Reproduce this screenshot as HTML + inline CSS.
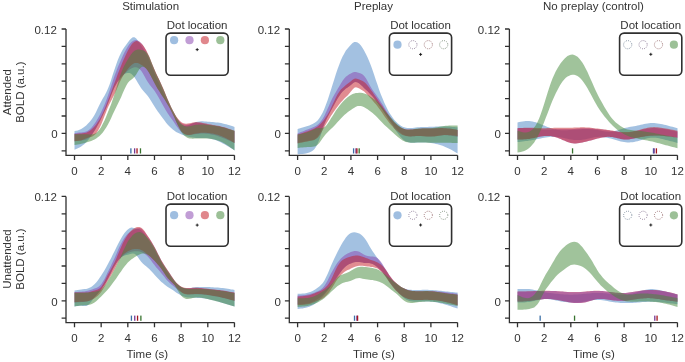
<!DOCTYPE html><html><head><meta charset="utf-8"><style>html,body{margin:0;padding:0;background:#fff;overflow:hidden}svg{display:block;will-change:transform}</style></head><body>
<svg xmlns="http://www.w3.org/2000/svg" width="685" height="362" viewBox="0 0 685 362" font-family="Liberation Sans, sans-serif" font-size="11.5" fill="#333333">
<rect width="685" height="362" fill="#fff"/>
<text x="150.6" y="10.2" text-anchor="middle">Stimulation</text>
<text x="373.5" y="10.2" text-anchor="middle">Preplay</text>
<text x="593.4" y="10.2" text-anchor="middle">No preplay (control)</text>
<text transform="translate(11.0,92.2) rotate(-90)" text-anchor="middle">Attended</text>
<text transform="translate(24.4,92.2) rotate(-90)" text-anchor="middle">BOLD (a.u.)</text>
<text transform="translate(11.0,259.0) rotate(-90)" text-anchor="middle">Unattended</text>
<text transform="translate(24.4,259.0) rotate(-90)" text-anchor="middle">BOLD (a.u.)</text>
<text x="147.3" y="358.4" text-anchor="middle">Time (s)</text>
<text x="373.9" y="358.4" text-anchor="middle">Time (s)</text>
<text x="593.9" y="358.4" text-anchor="middle">Time (s)</text>
<path d="M74.5,131.1 76.2,130.8 77.8,130.4 79.5,129.8 81.2,129.1 82.8,128.1 84.5,126.8 86.2,125.4 87.8,123.8 89.5,122.1 91.2,120.1 92.8,117.8 94.5,115.0 96.2,111.8 97.8,108.3 99.5,104.8 101.2,101.5 102.8,98.5 104.5,95.7 106.2,92.6 107.8,89.0 109.5,84.7 111.2,79.8 112.8,74.6 114.5,69.5 116.2,64.6 117.8,60.1 119.5,56.0 121.2,52.5 122.8,49.5 124.5,47.0 126.2,44.7 127.8,42.5 129.5,40.3 131.2,38.4 132.8,37.3 134.5,37.3 136.2,38.5 137.8,40.5 139.5,42.9 141.2,45.5 142.8,48.1 144.5,50.7 146.1,53.6 147.8,56.8 149.5,60.7 151.1,64.8 152.8,69.2 154.5,73.4 156.1,77.3 157.8,81.0 159.5,84.6 161.1,88.2 162.8,91.8 164.5,95.6 166.1,99.3 167.8,103.0 169.5,106.5 171.1,109.8 172.8,113.0 174.5,116.0 176.1,118.8 177.8,121.2 179.5,123.2 181.1,124.7 182.8,125.6 184.5,125.9 186.1,125.8 187.8,125.4 189.5,124.8 191.1,124.0 192.8,123.2 194.5,122.5 196.1,122.0 197.8,121.7 199.5,121.4 201.1,121.3 202.8,121.3 204.5,121.4 206.1,121.5 207.8,121.7 209.5,121.8 211.1,121.9 212.8,122.0 214.5,122.2 216.1,122.4 217.8,122.6 219.5,122.8 221.1,123.1 222.8,123.5 224.5,123.9 226.1,124.3 227.8,124.8 229.5,125.3 231.1,125.8 232.8,126.3 234.5,126.9 L234.5,150.4 232.8,149.3 231.1,148.3 229.5,147.2 227.8,146.2 226.1,145.2 224.5,144.3 222.8,143.4 221.1,142.5 219.5,141.7 217.8,141.0 216.1,140.3 214.5,139.7 212.8,139.2 211.1,138.8 209.5,138.4 207.8,138.2 206.1,138.0 204.5,137.9 202.8,137.9 201.1,137.9 199.5,137.9 197.8,137.9 196.1,137.9 194.5,137.8 192.8,137.6 191.1,137.3 189.5,137.0 187.8,136.5 186.1,136.1 184.5,135.5 182.8,134.9 181.1,134.3 179.5,133.6 177.8,132.8 176.1,131.9 174.5,130.8 172.8,129.6 171.1,128.1 169.5,126.5 167.8,124.7 166.1,122.7 164.5,120.5 162.8,118.3 161.1,116.0 159.5,113.7 157.8,111.4 156.1,109.0 154.5,106.4 152.8,103.7 151.1,101.0 149.5,98.4 147.8,96.0 146.1,94.0 144.5,92.2 142.8,90.3 141.2,88.2 139.5,85.6 137.8,82.7 136.2,79.9 134.5,77.3 132.8,75.2 131.2,73.8 129.5,73.1 127.8,72.9 126.2,73.2 124.5,73.8 122.8,74.9 121.2,76.4 119.5,78.4 117.8,80.9 116.2,83.9 114.5,87.3 112.8,91.2 111.2,95.3 109.5,99.6 107.8,103.8 106.2,107.8 104.5,111.6 102.8,115.2 101.2,118.6 99.5,121.9 97.8,125.0 96.2,128.0 94.5,130.8 92.8,133.5 91.2,136.0 89.5,138.3 87.8,140.4 86.2,142.2 84.5,143.9 82.8,145.3 81.2,146.5 79.5,147.4 77.8,148.3 76.2,149.0 74.5,149.7 Z" fill="rgb(71,131,195)" fill-opacity="0.50"/>
<path d="M74.5,133.1 76.2,132.9 77.8,132.7 79.5,132.5 81.2,132.4 82.8,132.2 84.5,132.0 86.2,131.5 87.8,130.8 89.5,129.6 91.2,128.0 92.8,126.1 94.5,123.8 96.2,121.3 97.8,118.5 99.5,115.4 101.2,112.1 102.8,108.5 104.5,104.7 106.2,100.5 107.8,96.0 109.5,91.1 111.2,86.0 112.8,80.9 114.5,76.0 116.2,71.4 117.8,67.2 119.5,63.2 121.2,59.5 122.8,55.8 124.5,52.3 126.2,49.2 127.8,46.4 129.5,44.1 131.2,42.3 132.8,41.1 134.5,40.3 136.2,40.1 137.8,40.5 139.5,41.4 141.2,42.9 142.8,45.0 144.5,47.7 146.1,50.7 147.8,54.2 149.5,58.0 151.1,62.0 152.8,66.0 154.5,69.9 156.1,73.6 157.8,77.1 159.5,80.6 161.1,84.2 162.8,88.1 164.5,92.0 166.1,96.0 167.8,99.9 169.5,103.7 171.1,107.3 172.8,110.7 174.5,113.8 176.1,116.7 177.8,119.2 179.5,121.4 181.1,123.0 182.8,124.0 184.5,124.5 186.1,124.7 187.8,124.5 189.5,124.2 191.1,123.7 192.8,123.3 194.5,123.0 196.1,122.8 197.8,122.8 199.5,123.0 201.1,123.2 202.8,123.6 204.5,124.0 206.1,124.3 207.8,124.7 209.5,125.0 211.1,125.3 212.8,125.5 214.5,125.8 216.1,126.0 217.8,126.2 219.5,126.5 221.1,126.9 222.8,127.3 224.5,127.7 226.1,128.2 227.8,128.8 229.5,129.4 231.1,130.0 232.8,130.6 234.5,131.2 L234.5,143.0 232.8,142.2 231.1,141.5 229.5,140.7 227.8,140.0 226.1,139.3 224.5,138.6 222.8,138.0 221.1,137.3 219.5,136.7 217.8,136.1 216.1,135.6 214.5,135.1 212.8,134.7 211.1,134.4 209.5,134.1 207.8,133.8 206.1,133.7 204.5,133.6 202.8,133.6 201.1,133.6 199.5,133.7 197.8,133.9 196.1,134.0 194.5,134.3 192.8,134.5 191.1,134.7 189.5,134.8 187.8,134.8 186.1,134.5 184.5,133.9 182.8,133.0 181.1,131.7 179.5,129.9 177.8,127.7 176.1,125.4 174.5,123.0 172.8,120.6 171.1,118.3 169.5,115.9 167.8,113.4 166.1,110.7 164.5,108.0 162.8,105.1 161.1,102.1 159.5,99.1 157.8,96.1 156.1,93.3 154.5,90.8 152.8,88.6 151.1,86.6 149.5,84.5 147.8,82.1 146.1,79.2 144.5,76.2 142.8,73.3 141.2,70.8 139.5,69.0 137.8,67.8 136.2,67.3 134.5,67.3 132.8,67.7 131.2,68.4 129.5,69.4 127.8,70.8 126.2,72.3 124.5,74.0 122.8,75.8 121.2,77.7 119.5,79.7 117.8,81.8 116.2,84.3 114.5,87.3 112.8,91.0 111.2,95.1 109.5,99.5 107.8,103.8 106.2,107.9 104.5,111.6 102.8,115.2 101.2,118.6 99.5,121.9 97.8,125.1 96.2,128.0 94.5,130.8 92.8,133.3 91.2,135.5 89.5,137.3 87.8,138.6 86.2,139.5 84.5,140.0 82.8,140.2 81.2,140.4 79.5,140.5 77.8,140.7 76.2,141.0 74.5,141.2 Z" fill="rgb(137,67,175)" fill-opacity="0.50"/>
<path d="M74.5,134.1 76.2,133.9 77.8,133.7 79.5,133.5 81.2,133.4 82.8,133.3 84.5,133.1 86.2,132.7 87.8,132.1 89.5,131.1 91.2,129.8 92.8,128.3 94.5,126.4 96.2,124.4 97.8,122.1 99.5,119.5 101.2,116.4 102.8,113.0 104.5,109.2 106.2,105.1 107.8,100.8 109.5,96.4 111.2,91.9 112.8,87.4 114.5,82.9 116.2,78.5 117.8,74.1 119.5,69.7 121.2,65.5 122.8,61.5 124.5,57.7 126.2,54.1 127.8,50.8 129.5,47.7 131.2,45.1 132.8,43.1 134.5,41.7 136.2,41.1 137.8,41.3 139.5,42.0 141.2,43.4 142.8,45.1 144.5,47.4 146.1,50.1 147.8,53.4 149.5,57.1 151.1,61.2 152.8,65.4 154.5,69.5 156.1,73.2 157.8,76.7 159.5,80.2 161.1,83.8 162.8,87.6 164.5,91.5 166.1,95.5 167.8,99.5 169.5,103.3 171.1,106.9 172.8,110.3 174.5,113.4 176.1,116.2 177.8,118.6 179.5,120.6 181.1,122.1 182.8,123.1 184.5,123.6 186.1,123.7 187.8,123.6 189.5,123.3 191.1,122.9 192.8,122.6 194.5,122.3 196.1,122.1 197.8,122.2 199.5,122.3 201.1,122.6 202.8,122.9 204.5,123.3 206.1,123.6 207.8,124.0 209.5,124.3 211.1,124.6 212.8,124.9 214.5,125.2 216.1,125.5 217.8,125.7 219.5,126.1 221.1,126.4 222.8,126.9 224.5,127.3 226.1,127.8 227.8,128.4 229.5,129.0 231.1,129.6 232.8,130.2 234.5,130.8 L234.5,143.0 232.8,142.0 231.1,141.0 229.5,140.1 227.8,139.2 226.1,138.3 224.5,137.5 222.8,136.7 221.1,136.0 219.5,135.4 217.8,134.8 216.1,134.4 214.5,134.0 212.8,133.6 211.1,133.4 209.5,133.1 207.8,133.0 206.1,132.8 204.5,132.8 202.8,132.8 201.1,132.8 199.5,133.0 197.8,133.2 196.1,133.5 194.5,133.8 192.8,134.3 191.1,134.7 189.5,135.0 187.8,135.0 186.1,134.8 184.5,134.0 182.8,132.7 181.1,130.8 179.5,128.1 177.8,124.9 176.1,121.4 174.5,117.7 172.8,114.2 171.1,110.8 169.5,107.7 167.8,104.7 166.1,101.9 164.5,99.3 162.8,96.8 161.1,94.2 159.5,91.6 157.8,88.9 156.1,86.0 154.5,82.9 152.8,79.7 151.1,76.5 149.5,73.4 147.8,70.8 146.1,68.6 144.5,67.0 142.8,65.7 141.2,64.7 139.5,63.8 137.8,63.1 136.2,62.9 134.5,63.1 132.8,63.9 131.2,65.3 129.5,67.0 127.8,69.0 126.2,71.2 124.5,73.5 122.8,76.2 121.2,79.3 119.5,82.8 117.8,86.7 116.2,90.6 114.5,94.2 112.8,97.6 111.2,100.8 109.5,104.1 107.8,107.6 106.2,111.7 104.5,116.0 102.8,120.4 101.2,124.4 99.5,128.0 97.8,131.0 96.2,133.4 94.5,135.1 92.8,136.2 91.2,136.9 89.5,137.3 87.8,137.8 86.2,138.3 84.5,139.0 82.8,139.8 81.2,140.4 79.5,140.8 77.8,141.0 76.2,141.1 74.5,141.2 Z" fill="rgb(195,25,35)" fill-opacity="0.50"/>
<path d="M74.5,134.2 76.2,134.2 77.8,134.3 79.5,134.3 81.2,134.3 82.8,134.2 84.5,134.2 86.2,134.2 87.8,134.3 89.5,134.4 91.2,134.5 92.8,134.3 94.5,133.8 96.2,132.9 97.8,131.4 99.5,129.4 101.2,126.9 102.8,123.8 104.5,120.4 106.2,116.5 107.8,112.5 109.5,108.3 111.2,104.0 112.8,99.3 114.5,94.2 116.2,88.8 117.8,83.2 119.5,77.8 121.2,72.9 122.8,68.8 124.5,65.3 126.2,62.2 127.8,59.5 129.5,56.8 131.2,54.3 132.8,52.3 134.5,50.8 136.2,49.9 137.8,49.6 139.5,49.6 141.2,49.9 142.8,50.2 144.5,50.9 146.1,52.1 147.8,54.2 149.5,57.4 151.1,61.4 152.8,65.7 154.5,69.9 156.1,73.7 157.8,77.3 159.5,80.7 161.1,84.2 162.8,88.0 164.5,92.0 166.1,96.0 167.8,99.9 169.5,103.7 171.1,107.2 172.8,110.6 174.5,113.8 176.1,116.8 177.8,119.6 179.5,122.0 181.1,123.8 182.8,125.1 184.5,126.0 186.1,126.4 187.8,126.4 189.5,126.2 191.1,125.9 192.8,125.5 194.5,125.1 196.1,124.8 197.8,124.7 199.5,124.5 201.1,124.5 202.8,124.5 204.5,124.6 206.1,124.7 207.8,124.9 209.5,125.0 211.1,125.2 212.8,125.4 214.5,125.6 216.1,125.9 217.8,126.2 219.5,126.5 221.1,126.9 222.8,127.3 224.5,127.7 226.1,128.2 227.8,128.7 229.5,129.2 231.1,129.7 232.8,130.2 234.5,130.8 L234.5,150.4 232.8,149.1 231.1,147.9 229.5,146.7 227.8,145.5 226.1,144.4 224.5,143.4 222.8,142.5 221.1,141.7 219.5,141.0 217.8,140.4 216.1,139.9 214.5,139.5 212.8,139.2 211.1,138.9 209.5,138.7 207.8,138.6 206.1,138.5 204.5,138.5 202.8,138.5 201.1,138.5 199.5,138.5 197.8,138.5 196.1,138.6 194.5,138.6 192.8,138.7 191.1,138.6 189.5,138.4 187.8,137.9 186.1,137.1 184.5,135.8 182.8,134.0 181.1,131.7 179.5,128.7 177.8,125.2 176.1,121.5 174.5,117.7 172.8,114.2 171.1,110.8 169.5,107.6 167.8,104.7 166.1,101.9 164.5,99.3 162.8,96.8 161.1,94.2 159.5,91.6 157.8,88.9 156.1,86.0 154.5,82.9 152.8,79.7 151.1,76.5 149.5,73.5 147.8,70.8 146.1,68.6 144.5,67.2 142.8,66.7 141.2,67.3 139.5,69.1 137.8,71.7 136.2,74.4 134.5,76.8 132.8,78.5 131.2,79.8 129.5,81.1 127.8,82.9 126.2,85.7 124.5,89.2 122.8,93.0 121.2,96.9 119.5,100.5 117.8,104.0 116.2,107.3 114.5,110.8 112.8,114.3 111.2,118.0 109.5,121.4 107.8,124.7 106.2,127.6 104.5,130.1 102.8,132.4 101.2,134.3 99.5,135.9 97.8,137.3 96.2,138.5 94.5,139.5 92.8,140.3 91.2,141.0 89.5,141.6 87.8,142.1 86.2,142.6 84.5,143.0 82.8,143.5 81.2,143.8 79.5,144.2 77.8,144.5 76.2,144.8 74.5,145.1 Z" fill="rgb(65,135,55)" fill-opacity="0.50"/>
<rect x="130.24" y="148.30" width="1.3" height="5.2" fill="rgb(60,111,165)"/>
<rect x="133.97" y="148.30" width="1.3" height="5.2" fill="rgb(116,56,148)"/>
<rect x="136.37" y="148.30" width="1.3" height="5.2" fill="rgb(165,21,29)"/>
<rect x="139.83" y="148.30" width="1.3" height="5.2" fill="rgb(55,114,46)"/>
<path d="M66.00,29.00 V155.30 H234.46" fill="none" stroke="#303030" stroke-width="1.3"/>
<path d="M61.60,29.00 H66.00 M61.60,46.40 H66.00 M61.60,63.80 H66.00 M61.60,81.20 H66.00 M61.60,98.60 H66.00 M61.60,116.00 H66.00 M61.60,133.40 H66.00 M61.60,150.80 H66.00 M74.50,155.30 V159.90 M101.16,155.30 V159.90 M127.82,155.30 V159.90 M154.48,155.30 V159.90 M181.14,155.30 V159.90 M207.80,155.30 V159.90 M234.46,155.30 V159.90 " fill="none" stroke="#303030" stroke-width="1.3"/>
<text x="56.80" y="33.50" text-anchor="end">0.12</text>
<text x="57.60" y="138.10" text-anchor="end">0</text>
<text x="74.50" y="175.00" text-anchor="middle">0</text>
<text x="101.16" y="175.00" text-anchor="middle">2</text>
<text x="127.82" y="175.00" text-anchor="middle">4</text>
<text x="154.48" y="175.00" text-anchor="middle">6</text>
<text x="181.14" y="175.00" text-anchor="middle">8</text>
<text x="207.80" y="175.00" text-anchor="middle">10</text>
<text x="234.46" y="175.00" text-anchor="middle">12</text>
<text x="197.10" y="29.00" text-anchor="middle">Dot location</text>
<rect x="166.00" y="33.10" width="62.20" height="42.20" rx="4.5" fill="none" stroke="#303030" stroke-width="1.6"/>
<circle cx="174.10" cy="40.20" r="4.1" fill="rgb(71,131,195)" fill-opacity="0.52"/>
<circle cx="189.50" cy="40.20" r="4.1" fill="rgb(137,67,175)" fill-opacity="0.52"/>
<circle cx="204.90" cy="40.20" r="4.1" fill="rgb(195,25,35)" fill-opacity="0.52"/>
<circle cx="220.30" cy="40.20" r="4.1" fill="rgb(65,135,55)" fill-opacity="0.52"/>
<path d="M195.70,49.60 h3 M197.20,48.10 v3" stroke="#111" stroke-width="0.9"/>
<path d="M297.6,129.1 299.3,128.6 300.9,128.1 302.6,127.6 304.3,127.1 305.9,126.5 307.6,126.0 309.3,125.4 310.9,124.7 312.6,124.0 314.3,123.1 315.9,121.9 317.6,120.4 319.3,118.3 320.9,115.8 322.6,112.7 324.3,109.0 325.9,104.8 327.6,100.2 329.3,95.1 330.9,89.9 332.6,84.5 334.3,79.2 335.9,74.0 337.6,69.0 339.3,64.4 340.9,60.3 342.6,56.6 344.3,53.4 345.9,50.6 347.6,48.4 349.3,46.4 350.9,44.7 352.6,43.1 354.3,42.1 355.9,41.9 357.6,42.5 359.3,43.8 360.9,45.6 362.6,48.0 364.2,50.8 365.9,53.9 367.6,57.4 369.2,61.3 370.9,65.5 372.6,70.2 374.2,75.1 375.9,80.2 377.6,85.1 379.2,89.9 380.9,94.4 382.6,98.6 384.2,102.5 385.9,106.1 387.6,109.4 389.2,112.4 390.9,115.1 392.6,117.6 394.2,119.7 395.9,121.6 397.6,123.2 399.2,124.6 400.9,125.8 402.6,126.7 404.2,127.3 405.9,127.7 407.6,128.0 409.2,128.1 410.9,128.0 412.6,127.9 414.2,127.7 415.9,127.5 417.6,127.3 419.2,127.2 420.9,127.0 422.6,127.0 424.2,126.9 425.9,126.9 427.6,126.9 429.2,126.8 430.9,126.8 432.6,126.7 434.2,126.7 435.9,126.6 437.6,126.5 439.2,126.5 440.9,126.5 442.6,126.4 444.2,126.4 445.9,126.5 447.6,126.5 449.2,126.6 450.9,126.7 452.6,126.9 454.2,127.0 455.9,127.2 457.6,127.3 L457.6,153.4 455.9,152.4 454.2,151.5 452.6,150.6 450.9,149.6 449.2,148.8 447.6,147.9 445.9,147.2 444.2,146.5 442.6,145.8 440.9,145.2 439.2,144.7 437.6,144.3 435.9,143.9 434.2,143.5 432.6,143.2 430.9,143.0 429.2,142.8 427.6,142.6 425.9,142.5 424.2,142.4 422.6,142.4 420.9,142.4 419.2,142.4 417.6,142.5 415.9,142.7 414.2,142.8 412.6,142.8 410.9,142.8 409.2,142.5 407.6,142.1 405.9,141.4 404.2,140.4 402.6,139.0 400.9,137.3 399.2,135.3 397.6,133.1 395.9,130.7 394.2,128.2 392.6,125.6 390.9,123.0 389.2,120.3 387.6,117.7 385.9,115.1 384.2,112.5 382.6,110.0 380.9,107.6 379.2,105.2 377.6,103.0 375.9,100.7 374.2,98.6 372.6,96.6 370.9,94.7 369.2,93.0 367.6,91.3 365.9,89.8 364.2,88.2 362.6,86.5 360.9,84.9 359.3,83.6 357.6,82.5 355.9,82.0 354.3,82.3 352.6,83.5 350.9,85.0 349.3,86.3 347.6,87.4 345.9,88.6 344.3,89.9 342.6,91.6 340.9,93.6 339.3,96.0 337.6,98.6 335.9,101.5 334.3,104.5 332.6,107.7 330.9,110.8 329.3,113.8 327.6,117.0 325.9,120.6 324.3,124.7 322.6,129.5 320.9,134.7 319.3,139.6 317.6,143.8 315.9,147.0 314.3,149.2 312.6,150.7 310.9,151.7 309.3,152.4 307.6,153.0 305.9,153.5 304.3,153.8 302.6,154.0 300.9,154.1 299.3,154.2 297.6,154.3 Z" fill="rgb(71,131,195)" fill-opacity="0.50"/>
<path d="M297.6,133.4 299.3,132.7 300.9,132.1 302.6,131.4 304.3,130.8 305.9,130.1 307.6,129.5 309.3,128.8 310.9,128.2 312.6,127.5 314.3,126.8 315.9,125.9 317.6,124.7 319.3,123.2 320.9,121.3 322.6,118.9 324.3,116.0 325.9,112.6 327.6,108.8 329.3,104.9 330.9,101.2 332.6,97.8 334.3,94.8 335.9,91.9 337.6,89.0 339.3,86.2 340.9,83.4 342.6,80.8 344.3,78.6 345.9,76.8 347.6,75.4 349.3,74.3 350.9,73.4 352.6,72.6 354.3,72.1 355.9,72.1 357.6,72.5 359.3,72.9 360.9,73.5 362.6,74.4 364.2,76.0 365.9,78.3 367.6,81.2 369.2,84.3 370.9,87.3 372.6,89.9 374.2,92.3 375.9,94.6 377.6,96.9 379.2,99.3 380.9,101.9 382.6,104.6 384.2,107.3 385.9,110.0 387.6,112.7 389.2,115.3 390.9,117.7 392.6,119.9 394.2,121.9 395.9,123.7 397.6,125.2 399.2,126.5 400.9,127.6 402.6,128.4 404.2,129.1 405.9,129.5 407.6,129.7 409.2,129.7 410.9,129.6 412.6,129.5 414.2,129.3 415.9,129.1 417.6,128.9 419.2,128.7 420.9,128.6 422.6,128.6 424.2,128.5 425.9,128.5 427.6,128.5 429.2,128.5 430.9,128.4 432.6,128.4 434.2,128.3 435.9,128.3 437.6,128.2 439.2,128.1 440.9,128.1 442.6,128.1 444.2,128.2 445.9,128.3 447.6,128.4 449.2,128.6 450.9,128.8 452.6,129.1 454.2,129.4 455.9,129.6 457.6,129.9 L457.6,136.9 455.9,136.5 454.2,136.2 452.6,135.9 450.9,135.6 449.2,135.4 447.6,135.3 445.9,135.2 444.2,135.1 442.6,135.2 440.9,135.4 439.2,135.5 437.6,135.8 435.9,136.0 434.2,136.2 432.6,136.3 430.9,136.4 429.2,136.5 427.6,136.4 425.9,136.3 424.2,136.2 422.6,136.1 420.9,136.0 419.2,136.0 417.6,136.0 415.9,136.1 414.2,136.2 412.6,136.3 410.9,136.4 409.2,136.3 407.6,136.1 405.9,135.8 404.2,135.1 402.6,134.3 400.9,133.1 399.2,131.7 397.6,130.1 395.9,128.3 394.2,126.4 392.6,124.3 390.9,122.1 389.2,119.8 387.6,117.4 385.9,115.0 384.2,112.5 382.6,110.1 380.9,107.7 379.2,105.3 377.6,103.0 375.9,100.7 374.2,98.6 372.6,96.6 370.9,94.7 369.2,93.0 367.6,91.3 365.9,89.8 364.2,88.2 362.6,86.5 360.9,84.9 359.3,83.5 357.6,82.5 355.9,82.0 354.3,82.3 352.6,83.5 350.9,85.0 349.3,86.3 347.6,87.4 345.9,88.6 344.3,89.9 342.6,91.6 340.9,93.6 339.3,96.0 337.6,98.6 335.9,101.5 334.3,104.5 332.6,107.6 330.9,110.8 329.3,113.9 327.6,117.1 325.9,120.4 324.3,123.8 322.6,127.5 320.9,131.1 319.3,134.3 317.6,136.9 315.9,138.6 314.3,139.6 312.6,140.1 310.9,140.4 309.3,140.6 307.6,140.9 305.9,141.2 304.3,141.6 302.6,141.9 300.9,142.3 299.3,142.6 297.6,143.0 Z" fill="rgb(137,67,175)" fill-opacity="0.50"/>
<path d="M297.6,134.4 299.3,133.9 300.9,133.4 302.6,132.9 304.3,132.3 305.9,131.8 307.6,131.2 309.3,130.6 310.9,129.9 312.6,129.2 314.3,128.5 315.9,127.6 317.6,126.4 319.3,125.1 320.9,123.5 322.6,121.6 324.3,119.5 325.9,117.1 327.6,114.4 329.3,111.5 330.9,108.2 332.6,104.6 334.3,100.9 335.9,97.4 337.6,94.2 339.3,91.7 340.9,89.6 342.6,87.9 344.3,86.4 345.9,85.1 347.6,83.8 349.3,82.5 350.9,81.2 352.6,79.8 354.3,78.8 355.9,78.6 357.6,79.0 359.3,79.6 360.9,80.2 362.6,80.9 364.2,82.1 365.9,83.6 367.6,85.5 369.2,87.6 370.9,89.9 372.6,92.3 374.2,94.7 375.9,97.1 377.6,99.5 379.2,101.9 380.9,104.2 382.6,106.6 384.2,109.0 385.9,111.5 387.6,114.0 389.2,116.4 390.9,118.6 392.6,120.7 394.2,122.5 395.9,124.1 397.6,125.5 399.2,126.7 400.9,127.7 402.6,128.5 404.2,129.1 405.9,129.4 407.6,129.6 409.2,129.6 410.9,129.6 412.6,129.4 414.2,129.2 415.9,129.1 417.6,128.9 419.2,128.7 420.9,128.7 422.6,128.6 424.2,128.6 425.9,128.6 427.6,128.6 429.2,128.6 430.9,128.5 432.6,128.5 434.2,128.4 435.9,128.3 437.6,128.2 439.2,128.2 440.9,128.1 442.6,128.1 444.2,128.2 445.9,128.3 447.6,128.4 449.2,128.6 450.9,128.8 452.6,129.1 454.2,129.3 455.9,129.6 457.6,129.9 L457.6,136.0 455.9,135.8 454.2,135.6 452.6,135.4 450.9,135.3 449.2,135.2 447.6,135.1 445.9,135.1 444.2,135.1 442.6,135.3 440.9,135.5 439.2,135.7 437.6,135.9 435.9,136.2 434.2,136.4 432.6,136.5 430.9,136.6 429.2,136.6 427.6,136.6 425.9,136.5 424.2,136.3 422.6,136.2 420.9,136.1 419.2,136.0 417.6,136.0 415.9,136.1 414.2,136.2 412.6,136.3 410.9,136.4 409.2,136.4 407.6,136.3 405.9,136.0 404.2,135.6 402.6,134.9 400.9,134.0 399.2,132.8 397.6,131.5 395.9,130.0 394.2,128.4 392.6,126.6 390.9,124.7 389.2,122.7 387.6,120.6 385.9,118.3 384.2,116.0 382.6,113.6 380.9,111.1 379.2,108.7 377.6,106.4 375.9,104.3 374.2,102.4 372.6,100.5 370.9,98.6 369.2,96.7 367.6,94.9 365.9,93.2 364.2,91.6 362.6,90.4 360.9,89.4 359.3,88.5 357.6,87.7 355.9,87.2 354.3,87.7 352.6,89.4 350.9,91.6 349.3,93.6 347.6,95.4 345.9,97.0 344.3,98.6 342.6,100.4 340.9,102.3 339.3,104.3 337.6,106.4 335.9,108.7 334.3,111.0 332.6,113.4 330.9,116.0 329.3,118.7 327.6,121.5 325.9,124.3 324.3,127.3 322.6,130.3 320.9,133.2 319.3,135.7 317.6,137.8 315.9,139.1 314.3,140.0 312.6,140.5 310.9,140.8 309.3,141.1 307.6,141.4 305.9,141.8 304.3,142.1 302.6,142.4 300.9,142.8 299.3,143.1 297.6,143.5 Z" fill="rgb(195,25,35)" fill-opacity="0.50"/>
<path d="M297.6,134.6 299.3,134.3 300.9,133.9 302.6,133.6 304.3,133.1 305.9,132.7 307.6,132.1 309.3,131.5 310.9,130.8 312.6,130.0 314.3,129.2 315.9,128.6 317.6,128.2 319.3,128.1 320.9,128.2 322.6,128.0 324.3,127.3 325.9,125.9 327.6,123.8 329.3,121.3 330.9,118.6 332.6,115.9 334.3,113.2 335.9,110.6 337.6,108.2 339.3,106.0 340.9,103.9 342.6,102.1 344.3,100.3 345.9,98.7 347.6,97.2 349.3,95.9 350.9,94.9 352.6,94.1 354.3,93.6 355.9,93.1 357.6,92.9 359.3,92.7 360.9,92.7 362.6,93.0 364.2,93.4 365.9,94.0 367.6,94.8 369.2,95.8 370.9,96.9 372.6,98.0 374.2,99.2 375.9,100.5 377.6,102.1 379.2,103.9 380.9,105.8 382.6,107.8 384.2,109.9 385.9,111.9 387.6,113.9 389.2,115.8 390.9,117.7 392.6,119.6 394.2,121.4 395.9,123.1 397.6,124.7 399.2,126.1 400.9,127.3 402.6,128.3 404.2,129.1 405.9,129.5 407.6,129.7 409.2,129.8 410.9,129.6 412.6,129.4 414.2,129.1 415.9,128.8 417.6,128.6 419.2,128.5 420.9,128.4 422.6,128.3 424.2,128.3 425.9,128.3 427.6,128.3 429.2,128.3 430.9,128.2 432.6,128.0 434.2,127.8 435.9,127.5 437.6,127.2 439.2,126.8 440.9,126.5 442.6,126.2 444.2,126.0 445.9,125.8 447.6,125.7 449.2,125.6 450.9,125.5 452.6,125.5 454.2,125.5 455.9,125.5 457.6,125.6 L457.6,143.0 455.9,142.9 454.2,142.9 452.6,142.9 450.9,142.8 449.2,142.8 447.6,142.8 445.9,142.8 444.2,142.8 442.6,142.8 440.9,142.8 439.2,142.8 437.6,142.8 435.9,142.8 434.2,142.8 432.6,142.8 430.9,142.8 429.2,142.8 427.6,142.7 425.9,142.6 424.2,142.6 422.6,142.5 420.9,142.5 419.2,142.5 417.6,142.5 415.9,142.6 414.2,142.7 412.6,142.7 410.9,142.7 409.2,142.5 407.6,142.3 405.9,141.9 404.2,141.2 402.6,140.4 400.9,139.3 399.2,138.1 397.6,136.8 395.9,135.3 394.2,133.8 392.6,132.3 390.9,130.8 389.2,129.3 387.6,127.8 385.9,126.3 384.2,124.7 382.6,123.0 380.9,121.2 379.2,119.5 377.6,117.7 375.9,116.1 374.2,114.5 372.6,113.0 370.9,111.7 369.2,110.4 367.6,109.2 365.9,108.2 364.2,107.3 362.6,106.6 360.9,106.0 359.3,105.9 357.6,106.1 355.9,106.8 354.3,107.7 352.6,108.8 350.9,109.9 349.3,111.1 347.6,112.3 345.9,113.7 344.3,115.1 342.6,116.7 340.9,118.5 339.3,120.3 337.6,122.1 335.9,123.9 334.3,125.7 332.6,127.4 330.9,129.1 329.3,130.6 327.6,132.3 325.9,134.0 324.3,136.0 322.6,138.3 320.9,140.7 319.3,142.9 317.6,144.7 315.9,145.9 314.3,146.5 312.6,146.8 310.9,146.9 309.3,147.0 307.6,147.1 305.9,147.2 304.3,147.3 302.6,147.5 300.9,147.6 299.3,147.8 297.6,147.9 Z" fill="rgb(65,135,55)" fill-opacity="0.50"/>
<rect x="352.94" y="148.30" width="1.3" height="5.2" fill="rgb(60,111,165)"/>
<rect x="355.34" y="148.30" width="1.3" height="5.2" fill="rgb(116,56,148)"/>
<rect x="356.27" y="148.30" width="1.3" height="5.2" fill="rgb(165,21,29)"/>
<rect x="358.53" y="148.30" width="1.3" height="5.2" fill="rgb(55,114,46)"/>
<path d="M289.30,29.00 V155.30 H457.56" fill="none" stroke="#303030" stroke-width="1.3"/>
<path d="M284.90,29.00 H289.30 M284.90,46.40 H289.30 M284.90,63.80 H289.30 M284.90,81.20 H289.30 M284.90,98.60 H289.30 M284.90,116.00 H289.30 M284.90,133.40 H289.30 M284.90,150.80 H289.30 M297.60,155.30 V159.90 M324.26,155.30 V159.90 M350.92,155.30 V159.90 M377.58,155.30 V159.90 M404.24,155.30 V159.90 M430.90,155.30 V159.90 M457.56,155.30 V159.90 " fill="none" stroke="#303030" stroke-width="1.3"/>
<text x="280.10" y="33.50" text-anchor="end">0.12</text>
<text x="280.90" y="138.10" text-anchor="end">0</text>
<text x="297.60" y="175.00" text-anchor="middle">0</text>
<text x="324.26" y="175.00" text-anchor="middle">2</text>
<text x="350.92" y="175.00" text-anchor="middle">4</text>
<text x="377.58" y="175.00" text-anchor="middle">6</text>
<text x="404.24" y="175.00" text-anchor="middle">8</text>
<text x="430.90" y="175.00" text-anchor="middle">10</text>
<text x="457.56" y="175.00" text-anchor="middle">12</text>
<text x="420.50" y="29.00" text-anchor="middle">Dot location</text>
<rect x="389.40" y="33.10" width="62.20" height="42.20" rx="4.5" fill="none" stroke="#303030" stroke-width="1.6"/>
<circle cx="397.50" cy="44.70" r="4.1" fill="rgb(71,131,195)" fill-opacity="0.52"/>
<circle cx="412.90" cy="44.70" r="4.1" fill="none" stroke="rgb(105,82,118)" stroke-width="0.85" stroke-dasharray="0.8,1.35"/>
<circle cx="428.30" cy="44.70" r="4.1" fill="none" stroke="rgb(125,68,71)" stroke-width="0.85" stroke-dasharray="0.8,1.35"/>
<circle cx="443.70" cy="44.70" r="4.1" fill="none" stroke="rgb(81,105,78)" stroke-width="0.85" stroke-dasharray="0.8,1.35"/>
<path d="M419.10,54.40 h3 M420.60,52.90 v3" stroke="#111" stroke-width="0.9"/>
<path d="M517.5,122.4 519.2,122.1 520.8,121.8 522.5,121.5 524.2,121.3 525.8,121.1 527.5,121.1 529.2,121.1 530.8,121.2 532.5,121.5 534.2,121.9 535.8,122.3 537.5,122.9 539.2,123.5 540.8,124.2 542.5,124.9 544.2,125.6 545.8,126.3 547.5,126.9 549.2,127.6 550.8,128.2 552.5,128.7 554.2,129.2 555.8,129.6 557.5,129.9 559.2,130.1 560.8,130.3 562.5,130.3 564.2,130.3 565.8,130.3 567.5,130.2 569.2,130.1 570.8,129.9 572.5,129.8 574.2,129.6 575.8,129.5 577.5,129.4 579.2,129.3 580.8,129.2 582.5,129.1 584.1,129.1 585.8,129.0 587.5,129.0 589.1,129.1 590.8,129.2 592.5,129.3 594.1,129.5 595.8,129.7 597.5,129.9 599.1,130.2 600.8,130.6 602.5,130.9 604.1,131.2 605.8,131.4 607.5,131.6 609.1,131.7 610.8,131.7 612.5,131.5 614.1,131.2 615.8,130.7 617.5,130.3 619.1,129.7 620.8,129.2 622.5,128.7 624.1,128.2 625.8,127.8 627.5,127.4 629.1,127.1 630.8,126.8 632.5,126.5 634.1,126.2 635.8,125.9 637.5,125.6 639.1,125.2 640.8,124.8 642.5,124.5 644.1,124.1 645.8,123.8 647.5,123.5 649.1,123.3 650.8,123.1 652.5,123.1 654.1,123.1 655.8,123.3 657.5,123.4 659.1,123.7 660.8,124.0 662.5,124.3 664.1,124.7 665.8,125.1 667.5,125.5 669.1,125.9 670.8,126.4 672.5,126.8 674.1,127.3 675.8,127.7 677.5,128.2 L677.5,143.0 675.8,142.5 674.1,142.1 672.5,141.6 670.8,141.2 669.1,140.8 667.5,140.3 665.8,139.9 664.1,139.5 662.5,139.1 660.8,138.7 659.1,138.3 657.5,138.0 655.8,137.8 654.1,137.7 652.5,137.7 650.8,137.8 649.1,138.0 647.5,138.3 645.8,138.7 644.1,139.2 642.5,139.7 640.8,140.3 639.1,140.8 637.5,141.2 635.8,141.6 634.1,141.9 632.5,142.2 630.8,142.3 629.1,142.4 627.5,142.4 625.8,142.3 624.1,142.1 622.5,141.8 620.8,141.5 619.1,141.0 617.5,140.6 615.8,140.1 614.1,139.6 612.5,139.1 610.8,138.6 609.1,138.2 607.5,137.8 605.8,137.4 604.1,137.2 602.5,137.0 600.8,136.8 599.1,136.8 597.5,136.9 595.8,137.1 594.1,137.3 592.5,137.7 590.8,138.0 589.1,138.4 587.5,138.8 585.8,139.2 584.1,139.5 582.5,139.7 580.8,139.9 579.2,140.0 577.5,140.0 575.8,140.0 574.2,139.9 572.5,139.7 570.8,139.5 569.2,139.2 567.5,138.8 565.8,138.5 564.2,138.1 562.5,137.7 560.8,137.4 559.2,137.1 557.5,136.9 555.8,136.8 554.2,136.7 552.5,136.7 550.8,136.8 549.2,137.0 547.5,137.2 545.8,137.5 544.2,137.8 542.5,138.1 540.8,138.4 539.2,138.7 537.5,139.1 535.8,139.4 534.2,139.7 532.5,140.1 530.8,140.4 529.2,140.6 527.5,140.9 525.8,141.1 524.2,141.3 522.5,141.5 520.8,141.7 519.2,141.9 517.5,142.1 Z" fill="rgb(71,131,195)" fill-opacity="0.50"/>
<path d="M517.5,128.2 519.2,128.1 520.8,128.1 522.5,128.0 524.2,128.0 525.8,128.0 527.5,128.0 529.2,128.1 530.8,128.2 532.5,128.3 534.2,128.5 535.8,128.7 537.5,128.9 539.2,129.1 540.8,129.3 542.5,129.4 544.2,129.5 545.8,129.5 547.5,129.5 549.2,129.4 550.8,129.4 552.5,129.3 554.2,129.2 555.8,129.1 557.5,129.1 559.2,129.0 560.8,129.0 562.5,129.0 564.2,129.1 565.8,129.1 567.5,129.1 569.2,129.1 570.8,129.1 572.5,129.0 574.2,128.9 575.8,128.7 577.5,128.6 579.2,128.4 580.8,128.3 582.5,128.2 584.1,128.2 585.8,128.2 587.5,128.2 589.1,128.3 590.8,128.4 592.5,128.5 594.1,128.7 595.8,128.9 597.5,129.1 599.1,129.2 600.8,129.4 602.5,129.6 604.1,129.8 605.8,130.0 607.5,130.3 609.1,130.5 610.8,130.8 612.5,131.1 614.1,131.4 615.8,131.6 617.5,131.9 619.1,132.1 620.8,132.3 622.5,132.5 624.1,132.5 625.8,132.5 627.5,132.4 629.1,132.3 630.8,132.1 632.5,131.8 634.1,131.5 635.8,131.2 637.5,130.8 639.1,130.4 640.8,130.0 642.5,129.6 644.1,129.2 645.8,128.9 647.5,128.6 649.1,128.4 650.8,128.2 652.5,128.1 654.1,128.1 655.8,128.1 657.5,128.2 659.1,128.4 660.8,128.6 662.5,128.8 664.1,129.1 665.8,129.3 667.5,129.6 669.1,129.9 670.8,130.3 672.5,130.6 674.1,131.0 675.8,131.3 677.5,131.7 L677.5,137.8 675.8,137.5 674.1,137.2 672.5,137.0 670.8,136.7 669.1,136.5 667.5,136.3 665.8,136.2 664.1,136.0 662.5,135.9 660.8,135.8 659.1,135.8 657.5,135.8 655.8,135.8 654.1,135.8 652.5,135.9 650.8,136.0 649.1,136.1 647.5,136.3 645.8,136.5 644.1,136.7 642.5,136.9 640.8,137.1 639.1,137.4 637.5,137.8 635.8,138.1 634.1,138.4 632.5,138.8 630.8,139.1 629.1,139.3 627.5,139.5 625.8,139.5 624.1,139.5 622.5,139.3 620.8,139.0 619.1,138.6 617.5,138.2 615.8,137.8 614.1,137.4 612.5,137.1 610.8,136.9 609.1,136.8 607.5,136.8 605.8,136.9 604.1,137.2 602.5,137.5 600.8,137.8 599.1,138.2 597.5,138.6 595.8,139.1 594.1,139.5 592.5,140.0 590.8,140.4 589.1,140.8 587.5,141.3 585.8,141.7 584.1,142.1 582.5,142.5 580.8,142.8 579.2,143.1 577.5,143.3 575.8,143.4 574.2,143.4 572.5,143.2 570.8,143.0 569.2,142.5 567.5,142.0 565.8,141.3 564.2,140.6 562.5,139.9 560.8,139.1 559.2,138.4 557.5,137.8 555.8,137.2 554.2,136.7 552.5,136.4 550.8,136.1 549.2,135.9 547.5,135.9 545.8,135.9 544.2,136.0 542.5,136.2 540.8,136.5 539.2,136.8 537.5,137.2 535.8,137.6 534.2,138.0 532.5,138.3 530.8,138.6 529.2,138.9 527.5,139.1 525.8,139.2 524.2,139.3 522.5,139.4 520.8,139.4 519.2,139.5 517.5,139.5 Z" fill="rgb(137,67,175)" fill-opacity="0.50"/>
<path d="M517.5,128.2 519.2,128.1 520.8,128.0 522.5,127.9 524.2,127.8 525.8,127.8 527.5,127.8 529.2,127.7 530.8,127.7 532.5,127.8 534.2,127.8 535.8,127.9 537.5,128.0 539.2,128.1 540.8,128.1 542.5,128.2 544.2,128.2 545.8,128.2 547.5,128.1 549.2,128.1 550.8,128.0 552.5,127.9 554.2,127.8 555.8,127.8 557.5,127.7 559.2,127.7 560.8,127.7 562.5,127.7 564.2,127.8 565.8,127.8 567.5,127.8 569.2,127.8 570.8,127.7 572.5,127.7 574.2,127.6 575.8,127.5 577.5,127.4 579.2,127.4 580.8,127.3 582.5,127.3 584.1,127.3 585.8,127.4 587.5,127.5 589.1,127.6 590.8,127.8 592.5,128.0 594.1,128.2 595.8,128.4 597.5,128.6 599.1,128.8 600.8,129.0 602.5,129.2 604.1,129.4 605.8,129.6 607.5,129.9 609.1,130.1 610.8,130.4 612.5,130.6 614.1,130.9 615.8,131.2 617.5,131.5 619.1,131.7 620.8,131.9 622.5,132.0 624.1,132.1 625.8,132.1 627.5,132.0 629.1,131.9 630.8,131.7 632.5,131.4 634.1,131.1 635.8,130.8 637.5,130.4 639.1,129.9 640.8,129.5 642.5,129.0 644.1,128.6 645.8,128.2 647.5,127.8 649.1,127.5 650.8,127.3 652.5,127.2 654.1,127.1 655.8,127.2 657.5,127.3 659.1,127.5 660.8,127.7 662.5,127.9 664.1,128.2 665.8,128.5 667.5,128.8 669.1,129.1 670.8,129.4 672.5,129.8 674.1,130.1 675.8,130.4 677.5,130.8 L677.5,137.8 675.8,137.5 674.1,137.3 672.5,137.0 670.8,136.8 669.1,136.6 667.5,136.4 665.8,136.2 664.1,136.0 662.5,135.8 660.8,135.7 659.1,135.6 657.5,135.5 655.8,135.5 654.1,135.5 652.5,135.5 650.8,135.6 649.1,135.7 647.5,135.9 645.8,136.1 644.1,136.4 642.5,136.7 640.8,137.0 639.1,137.4 637.5,137.8 635.8,138.1 634.1,138.5 632.5,138.8 630.8,139.1 629.1,139.4 627.5,139.5 625.8,139.6 624.1,139.5 622.5,139.3 620.8,139.0 619.1,138.6 617.5,138.2 615.8,137.8 614.1,137.4 612.5,137.1 610.8,136.9 609.1,136.8 607.5,136.8 605.8,136.9 604.1,137.2 602.5,137.5 600.8,137.8 599.1,138.2 597.5,138.6 595.8,139.1 594.1,139.5 592.5,140.0 590.8,140.4 589.1,140.8 587.5,141.3 585.8,141.7 584.1,142.1 582.5,142.5 580.8,142.8 579.2,143.1 577.5,143.3 575.8,143.4 574.2,143.4 572.5,143.2 570.8,143.0 569.2,142.5 567.5,142.0 565.8,141.3 564.2,140.6 562.5,139.9 560.8,139.1 559.2,138.4 557.5,137.8 555.8,137.2 554.2,136.7 552.5,136.4 550.8,136.1 549.2,135.9 547.5,135.9 545.8,135.9 544.2,136.0 542.5,136.2 540.8,136.5 539.2,136.8 537.5,137.2 535.8,137.6 534.2,138.0 532.5,138.3 530.8,138.6 529.2,138.9 527.5,139.1 525.8,139.2 524.2,139.3 522.5,139.4 520.8,139.4 519.2,139.5 517.5,139.5 Z" fill="rgb(195,25,35)" fill-opacity="0.50"/>
<path d="M517.5,130.8 519.2,131.3 520.8,131.8 522.5,132.2 524.2,132.5 525.8,132.5 527.5,132.3 529.2,131.7 530.8,130.8 532.5,129.4 534.2,127.6 535.8,125.2 537.5,122.1 539.2,118.3 540.8,113.9 542.5,109.0 544.2,103.8 545.8,98.4 547.5,93.0 549.2,87.8 550.8,82.9 552.5,78.6 554.2,74.7 555.8,71.2 557.5,68.2 559.2,65.4 560.8,63.0 562.5,60.9 564.2,59.0 565.8,57.4 567.5,56.1 569.2,55.2 570.8,54.7 572.5,54.6 574.2,54.9 575.8,55.7 577.5,56.8 579.2,58.4 580.8,60.4 582.5,62.8 584.1,65.5 585.8,68.7 587.5,72.1 589.1,75.7 590.8,79.5 592.5,83.3 594.1,87.1 595.8,90.7 597.5,94.2 599.1,97.5 600.8,100.6 602.5,103.6 604.1,106.4 605.8,109.2 607.5,112.0 609.1,114.5 610.8,116.9 612.5,118.9 614.1,120.8 615.8,122.4 617.5,123.8 619.1,125.1 620.8,126.3 622.5,127.3 624.1,128.2 625.8,128.9 627.5,129.4 629.1,129.8 630.8,130.1 632.5,130.3 634.1,130.5 635.8,130.7 637.5,130.8 639.1,130.9 640.8,131.1 642.5,131.3 644.1,131.5 645.8,131.7 647.5,132.0 649.1,132.3 650.8,132.5 652.5,132.8 654.1,133.1 655.8,133.5 657.5,133.8 659.1,134.1 660.8,134.5 662.5,134.8 664.1,135.1 665.8,135.5 667.5,135.8 669.1,136.1 670.8,136.5 672.5,136.8 674.1,137.1 675.8,137.4 677.5,137.8 L677.5,148.2 675.8,147.8 674.1,147.3 672.5,146.9 670.8,146.5 669.1,146.0 667.5,145.6 665.8,145.2 664.1,144.7 662.5,144.3 660.8,143.8 659.1,143.3 657.5,142.9 655.8,142.4 654.1,142.0 652.5,141.6 650.8,141.2 649.1,140.9 647.5,140.5 645.8,140.2 644.1,139.9 642.5,139.6 640.8,139.3 639.1,139.0 637.5,138.6 635.8,138.3 634.1,137.9 632.5,137.5 630.8,137.0 629.1,136.4 627.5,135.8 625.8,135.1 624.1,134.3 622.5,133.3 620.8,132.3 619.1,131.2 617.5,129.9 615.8,128.6 614.1,127.1 612.5,125.5 610.8,123.8 609.1,122.0 607.5,120.1 605.8,118.1 604.1,116.0 602.5,113.8 600.8,111.5 599.1,109.1 597.5,106.4 595.8,103.6 594.1,100.5 592.5,97.4 590.8,94.2 589.1,91.2 587.5,88.2 585.8,85.5 584.1,82.9 582.5,80.7 580.8,78.7 579.2,77.2 577.5,76.0 575.8,75.2 574.2,74.8 572.5,74.8 570.8,75.1 569.2,75.7 567.5,76.6 565.8,77.8 564.2,79.5 562.5,81.5 560.8,84.0 559.2,86.8 557.5,89.9 555.8,93.2 554.2,96.8 552.5,100.6 550.8,104.7 549.2,109.0 547.5,113.4 545.8,117.8 544.2,122.1 542.5,126.2 540.8,130.1 539.2,133.6 537.5,136.9 535.8,139.8 534.2,142.4 532.5,144.6 530.8,146.5 529.2,148.0 527.5,149.2 525.8,150.2 524.2,150.9 522.5,151.5 520.8,151.9 519.2,152.2 517.5,152.5 Z" fill="rgb(65,135,55)" fill-opacity="0.50"/>
<rect x="571.90" y="148.30" width="1.3" height="5.2" fill="rgb(55,114,46)"/>
<rect x="652.82" y="148.30" width="1.3" height="5.2" fill="rgb(60,111,165)"/>
<rect x="653.48" y="148.30" width="1.3" height="5.2" fill="rgb(116,56,148)"/>
<rect x="655.75" y="148.30" width="1.3" height="5.2" fill="rgb(165,21,29)"/>
<path d="M509.40,29.00 V155.30 H677.46" fill="none" stroke="#303030" stroke-width="1.3"/>
<path d="M505.00,29.00 H509.40 M505.00,46.40 H509.40 M505.00,63.80 H509.40 M505.00,81.20 H509.40 M505.00,98.60 H509.40 M505.00,116.00 H509.40 M505.00,133.40 H509.40 M505.00,150.80 H509.40 M517.50,155.30 V159.90 M544.16,155.30 V159.90 M570.82,155.30 V159.90 M597.48,155.30 V159.90 M624.14,155.30 V159.90 M650.80,155.30 V159.90 M677.46,155.30 V159.90 " fill="none" stroke="#303030" stroke-width="1.3"/>
<text x="500.20" y="33.50" text-anchor="end">0.12</text>
<text x="501.00" y="138.10" text-anchor="end">0</text>
<text x="517.50" y="175.00" text-anchor="middle">0</text>
<text x="544.16" y="175.00" text-anchor="middle">2</text>
<text x="570.82" y="175.00" text-anchor="middle">4</text>
<text x="597.48" y="175.00" text-anchor="middle">6</text>
<text x="624.14" y="175.00" text-anchor="middle">8</text>
<text x="650.80" y="175.00" text-anchor="middle">10</text>
<text x="677.46" y="175.00" text-anchor="middle">12</text>
<text x="650.70" y="29.00" text-anchor="middle">Dot location</text>
<rect x="619.60" y="33.10" width="62.20" height="42.20" rx="4.5" fill="none" stroke="#303030" stroke-width="1.6"/>
<circle cx="627.70" cy="44.70" r="4.1" fill="none" stroke="rgb(83,103,125)" stroke-width="0.85" stroke-dasharray="0.8,1.35"/>
<circle cx="643.10" cy="44.70" r="4.1" fill="none" stroke="rgb(105,82,118)" stroke-width="0.85" stroke-dasharray="0.8,1.35"/>
<circle cx="658.50" cy="44.70" r="4.1" fill="none" stroke="rgb(125,68,71)" stroke-width="0.85" stroke-dasharray="0.8,1.35"/>
<circle cx="673.90" cy="44.70" r="4.1" fill="rgb(65,135,55)" fill-opacity="0.52"/>
<path d="M649.30,54.30 h3 M650.80,52.80 v3" stroke="#111" stroke-width="0.9"/>
<path d="M74.5,290.6 76.2,290.3 77.8,290.0 79.5,289.7 81.2,289.5 82.8,289.3 84.5,289.1 86.2,288.9 87.8,288.4 89.5,287.8 91.2,286.9 92.8,285.7 94.5,284.3 96.2,282.5 97.8,280.4 99.5,278.1 101.2,275.6 102.8,272.9 104.5,270.2 106.2,267.3 107.8,264.3 109.5,261.1 111.2,257.9 112.8,254.6 114.5,251.2 116.2,247.8 117.8,244.4 119.5,241.2 121.2,238.2 122.8,235.5 124.5,233.1 126.2,231.1 127.8,229.5 129.5,228.2 131.2,227.6 132.8,227.7 134.5,228.2 136.2,228.5 137.8,228.8 139.5,229.3 141.2,230.3 142.8,232.0 144.5,234.1 146.1,236.5 147.8,239.0 149.5,241.5 151.1,244.1 152.8,246.7 154.5,249.5 156.1,252.5 157.8,255.7 159.5,258.9 161.1,262.1 162.8,265.1 164.5,267.8 166.1,270.5 167.8,273.0 169.5,275.3 171.1,277.6 172.8,279.7 174.5,281.7 176.1,283.4 177.8,285.0 179.5,286.3 181.1,287.3 182.8,288.0 184.5,288.3 186.1,288.5 187.8,288.4 189.5,288.2 191.1,287.9 192.8,287.6 194.5,287.3 196.1,287.1 197.8,287.0 199.5,286.9 201.1,286.9 202.8,286.9 204.5,286.9 206.1,287.0 207.8,287.1 209.5,287.1 211.1,287.2 212.8,287.3 214.5,287.4 216.1,287.5 217.8,287.6 219.5,287.8 221.1,287.9 222.8,288.1 224.5,288.3 226.1,288.6 227.8,288.8 229.5,289.1 231.1,289.4 232.8,289.6 234.5,289.9 L234.5,306.5 232.8,306.0 231.1,305.5 229.5,305.0 227.8,304.5 226.1,304.0 224.5,303.5 222.8,303.0 221.1,302.5 219.5,302.0 217.8,301.6 216.1,301.1 214.5,300.6 212.8,300.2 211.1,299.8 209.5,299.4 207.8,299.1 206.1,298.8 204.5,298.5 202.8,298.3 201.1,298.1 199.5,298.0 197.8,297.9 196.1,297.8 194.5,297.8 192.8,297.7 191.1,297.7 189.5,297.6 187.8,297.5 186.1,297.2 184.5,296.8 182.8,296.3 181.1,295.6 179.5,294.6 177.8,293.6 176.1,292.4 174.5,291.2 172.8,290.1 171.1,289.0 169.5,288.0 167.8,286.9 166.1,285.7 164.5,284.5 162.8,283.1 161.1,281.7 159.5,280.1 157.8,278.3 156.1,276.5 154.5,274.7 152.8,272.8 151.1,271.0 149.5,269.3 147.8,267.7 146.1,266.3 144.5,265.0 142.8,263.5 141.2,261.7 139.5,259.4 137.8,257.1 136.2,255.1 134.5,253.8 132.8,253.5 131.2,253.8 129.5,254.3 127.8,254.7 126.2,255.1 124.5,255.6 122.8,256.3 121.2,257.3 119.5,258.8 117.8,260.8 116.2,263.2 114.5,266.0 112.8,269.1 111.2,272.4 109.5,275.8 107.8,279.1 106.2,282.0 104.5,284.8 102.8,287.3 101.2,289.5 99.5,291.5 97.8,293.4 96.2,295.3 94.5,297.3 92.8,299.5 91.2,301.8 89.5,303.7 87.8,305.2 86.2,305.9 84.5,306.1 82.8,306.0 81.2,305.8 79.5,305.8 77.8,306.0 76.2,306.2 74.5,306.5 Z" fill="rgb(71,131,195)" fill-opacity="0.50"/>
<path d="M74.5,292.1 76.2,292.0 77.8,291.9 79.5,291.8 81.2,291.7 82.8,291.5 84.5,291.4 86.2,291.1 87.8,290.8 89.5,290.3 91.2,289.8 92.8,289.2 94.5,288.6 96.2,288.0 97.8,287.2 99.5,286.0 101.2,284.3 102.8,281.8 104.5,278.9 106.2,275.5 107.8,272.1 109.5,268.7 111.2,265.3 112.8,261.8 114.5,258.2 116.2,254.4 117.8,250.5 119.5,246.8 121.2,243.4 122.8,240.4 124.5,237.8 126.2,235.6 127.8,233.8 129.5,232.4 131.2,231.2 132.8,230.3 134.5,229.5 136.2,228.7 137.8,228.2 139.5,228.1 141.2,228.6 142.8,229.9 144.5,231.7 146.1,234.0 147.8,236.4 149.5,238.8 151.1,241.3 152.8,244.0 154.5,246.9 156.1,250.1 157.8,253.5 159.5,256.8 161.1,260.0 162.8,262.8 164.5,265.4 166.1,267.9 167.8,270.4 169.5,272.9 171.1,275.5 172.8,278.0 174.5,280.4 176.1,282.4 177.8,284.2 179.5,285.7 181.1,286.9 182.8,287.7 184.5,288.2 186.1,288.5 187.8,288.6 189.5,288.6 191.1,288.5 192.8,288.3 194.5,288.2 196.1,288.1 197.8,288.2 199.5,288.2 201.1,288.3 202.8,288.5 204.5,288.7 206.1,288.9 207.8,289.1 209.5,289.2 211.1,289.4 212.8,289.6 214.5,289.8 216.1,289.9 217.8,290.1 219.5,290.3 221.1,290.5 222.8,290.8 224.5,291.0 226.1,291.3 227.8,291.6 229.5,291.9 231.1,292.2 232.8,292.5 234.5,292.8 L234.5,301.0 232.8,300.5 231.1,300.1 229.5,299.6 227.8,299.1 226.1,298.7 224.5,298.3 222.8,297.9 221.1,297.5 219.5,297.1 217.8,296.8 216.1,296.5 214.5,296.2 212.8,295.9 211.1,295.6 209.5,295.4 207.8,295.1 206.1,294.9 204.5,294.8 202.8,294.6 201.1,294.5 199.5,294.4 197.8,294.3 196.1,294.3 194.5,294.3 192.8,294.3 191.1,294.3 189.5,294.3 187.8,294.2 186.1,293.9 184.5,293.5 182.8,292.9 181.1,292.1 179.5,291.0 177.8,289.7 176.1,288.3 174.5,286.9 172.8,285.5 171.1,284.2 169.5,282.7 167.8,281.1 166.1,279.2 164.5,277.1 162.8,275.0 161.1,273.0 159.5,271.0 157.8,269.1 156.1,267.2 154.5,265.1 152.8,262.9 151.1,260.6 149.5,258.4 147.8,256.4 146.1,254.9 144.5,253.7 142.8,252.7 141.2,252.1 139.5,251.6 137.8,251.3 136.2,251.2 134.5,251.2 132.8,251.4 131.2,251.8 129.5,252.3 127.8,253.0 126.2,253.8 124.5,254.7 122.8,255.9 121.2,257.3 119.5,259.0 117.8,261.0 116.2,263.3 114.5,266.0 112.8,269.1 111.2,272.4 109.5,275.8 107.8,279.1 106.2,282.0 104.5,284.7 102.8,287.2 101.2,289.5 99.5,291.7 97.8,293.8 96.2,295.7 94.5,297.3 92.8,298.7 91.2,299.8 89.5,300.6 87.8,301.2 86.2,301.6 84.5,301.9 82.8,302.0 81.2,302.1 79.5,302.2 77.8,302.3 76.2,302.4 74.5,302.5 Z" fill="rgb(137,67,175)" fill-opacity="0.50"/>
<path d="M74.5,292.5 76.2,292.5 77.8,292.5 79.5,292.5 81.2,292.5 82.8,292.6 84.5,292.6 86.2,292.6 87.8,292.4 89.5,292.0 91.2,291.4 92.8,290.9 94.5,290.4 96.2,289.9 97.8,289.4 99.5,288.5 101.2,286.9 102.8,284.4 104.5,281.4 106.2,278.0 107.8,274.7 109.5,271.7 111.2,268.8 112.8,265.8 114.5,262.5 116.2,258.8 117.8,254.8 119.5,250.8 121.2,246.9 122.8,243.3 124.5,240.0 126.2,237.2 127.8,234.7 129.5,232.5 131.2,230.8 132.8,229.3 134.5,228.2 136.2,227.3 137.8,226.9 139.5,227.0 141.2,227.7 142.8,229.1 144.5,231.1 146.1,233.5 147.8,236.0 149.5,238.5 151.1,241.1 152.8,243.9 154.5,246.9 156.1,250.1 157.8,253.5 159.5,256.8 161.1,260.0 162.8,262.8 164.5,265.4 166.1,267.9 167.8,270.4 169.5,272.9 171.1,275.5 172.8,278.0 174.5,280.4 176.1,282.4 177.8,284.0 179.5,285.4 181.1,286.4 182.8,287.2 184.5,287.7 186.1,287.9 187.8,288.0 189.5,288.0 191.1,287.9 192.8,287.8 194.5,287.8 196.1,287.7 197.8,287.8 199.5,287.9 201.1,288.0 202.8,288.2 204.5,288.4 206.1,288.6 207.8,288.8 209.5,289.0 211.1,289.2 212.8,289.4 214.5,289.6 216.1,289.7 217.8,289.9 219.5,290.1 221.1,290.4 222.8,290.6 224.5,290.8 226.1,291.1 227.8,291.4 229.5,291.7 231.1,291.9 232.8,292.2 234.5,292.5 L234.5,300.8 232.8,300.3 231.1,299.9 229.5,299.4 227.8,299.0 226.1,298.5 224.5,298.1 222.8,297.7 221.1,297.3 219.5,297.0 217.8,296.6 216.1,296.3 214.5,296.0 212.8,295.7 211.1,295.4 209.5,295.1 207.8,294.9 206.1,294.6 204.5,294.4 202.8,294.2 201.1,294.1 199.5,294.0 197.8,293.9 196.1,293.9 194.5,294.0 192.8,294.2 191.1,294.3 189.5,294.5 187.8,294.5 186.1,294.3 184.5,293.9 182.8,293.2 181.1,292.1 179.5,290.6 177.8,288.9 176.1,287.0 174.5,285.1 172.8,283.4 171.1,281.8 169.5,280.1 167.8,278.2 166.1,276.0 164.5,273.5 162.8,271.0 161.1,268.6 159.5,266.4 157.8,264.4 156.1,262.5 154.5,260.8 152.8,259.2 151.1,257.6 149.5,256.1 147.8,254.7 146.1,253.3 144.5,252.0 142.8,250.8 141.2,249.9 139.5,249.3 137.8,249.0 136.2,248.9 134.5,249.0 132.8,249.3 131.2,249.8 129.5,250.4 127.8,251.2 126.2,252.2 124.5,253.5 122.8,255.1 121.2,257.3 119.5,260.0 117.8,263.1 116.2,266.3 114.5,269.5 112.8,272.4 111.2,275.2 109.5,278.0 107.8,280.8 106.2,283.8 104.5,286.8 102.8,289.6 101.2,292.1 99.5,294.1 97.8,295.8 96.2,297.1 94.5,298.2 92.8,299.2 91.2,300.0 89.5,300.7 87.8,301.2 86.2,301.5 84.5,301.6 82.8,301.7 81.2,301.7 79.5,301.7 77.8,301.9 76.2,302.0 74.5,302.2 Z" fill="rgb(195,25,35)" fill-opacity="0.50"/>
<path d="M74.5,292.7 76.2,292.7 77.8,292.7 79.5,292.7 81.2,292.7 82.8,292.7 84.5,292.7 86.2,292.6 87.8,292.5 89.5,292.4 91.2,292.1 92.8,291.9 94.5,291.7 96.2,291.5 97.8,291.1 99.5,290.5 101.2,289.5 102.8,287.9 104.5,285.8 106.2,283.4 107.8,280.8 109.5,278.1 111.2,275.4 112.8,272.5 114.5,269.5 116.2,266.2 117.8,262.8 119.5,259.2 121.2,255.6 122.8,251.8 124.5,248.2 126.2,244.7 127.8,241.6 129.5,239.0 131.2,236.9 132.8,235.1 134.5,233.8 136.2,232.8 137.8,232.3 139.5,232.1 141.2,232.5 142.8,233.4 144.5,234.7 146.1,236.3 147.8,238.2 149.5,240.2 151.1,242.4 152.8,244.9 154.5,247.7 156.1,250.9 157.8,254.2 159.5,257.6 161.1,260.8 162.8,263.7 164.5,266.3 166.1,268.8 167.8,271.2 169.5,273.7 171.1,276.2 172.8,278.6 174.5,280.8 176.1,282.7 177.8,284.4 179.5,285.8 181.1,286.9 182.8,287.7 184.5,288.3 186.1,288.6 187.8,288.8 189.5,288.9 191.1,288.9 192.8,288.9 194.5,288.8 196.1,288.8 197.8,288.8 199.5,288.8 201.1,288.9 202.8,289.0 204.5,289.1 206.1,289.2 207.8,289.3 209.5,289.5 211.1,289.6 212.8,289.8 214.5,290.0 216.1,290.2 217.8,290.4 219.5,290.6 221.1,290.8 222.8,291.0 224.5,291.3 226.1,291.6 227.8,291.8 229.5,292.1 231.1,292.4 232.8,292.7 234.5,293.0 L234.5,306.5 232.8,306.0 231.1,305.5 229.5,305.0 227.8,304.5 226.1,304.0 224.5,303.5 222.8,303.0 221.1,302.5 219.5,302.1 217.8,301.6 216.1,301.2 214.5,300.7 212.8,300.3 211.1,299.9 209.5,299.5 207.8,299.1 206.1,298.7 204.5,298.3 202.8,298.0 201.1,297.7 199.5,297.6 197.8,297.5 196.1,297.5 194.5,297.8 192.8,298.1 191.1,298.5 189.5,298.8 187.8,299.0 186.1,298.9 184.5,298.3 182.8,297.3 181.1,295.6 179.5,293.2 177.8,290.5 176.1,287.7 174.5,285.1 172.8,283.1 171.1,281.5 169.5,279.9 167.8,278.2 166.1,276.0 164.5,273.6 162.8,271.0 161.1,268.6 159.5,266.4 157.8,264.4 156.1,262.6 154.5,260.8 152.8,259.0 151.1,257.3 149.5,255.9 147.8,254.7 146.1,253.9 144.5,253.5 142.8,253.5 141.2,253.8 139.5,254.4 137.8,255.3 136.2,256.2 134.5,257.3 132.8,258.4 131.2,259.6 129.5,260.9 127.8,262.5 126.2,264.4 124.5,266.5 122.8,268.8 121.2,271.2 119.5,273.6 117.8,276.0 116.2,278.4 114.5,280.8 112.8,283.1 111.2,285.3 109.5,287.5 107.8,289.5 106.2,291.3 104.5,293.1 102.8,294.8 101.2,296.4 99.5,298.1 97.8,299.8 96.2,301.3 94.5,302.5 92.8,303.5 91.2,304.2 89.5,304.7 87.8,305.0 86.2,305.2 84.5,305.3 82.8,305.5 81.2,305.6 79.5,305.7 77.8,305.9 76.2,306.1 74.5,306.4 Z" fill="rgb(65,135,55)" fill-opacity="0.50"/>
<rect x="130.77" y="315.60" width="1.3" height="5.2" fill="rgb(60,111,165)"/>
<rect x="134.10" y="315.60" width="1.3" height="5.2" fill="rgb(116,56,148)"/>
<rect x="136.90" y="315.60" width="1.3" height="5.2" fill="rgb(165,21,29)"/>
<rect x="140.23" y="315.60" width="1.3" height="5.2" fill="rgb(55,114,46)"/>
<path d="M66.00,196.40 V322.60 H234.46" fill="none" stroke="#303030" stroke-width="1.3"/>
<path d="M61.60,196.40 H66.00 M61.60,213.80 H66.00 M61.60,231.20 H66.00 M61.60,248.60 H66.00 M61.60,266.00 H66.00 M61.60,283.40 H66.00 M61.60,300.80 H66.00 M61.60,318.20 H66.00 M74.50,322.60 V327.20 M101.16,322.60 V327.20 M127.82,322.60 V327.20 M154.48,322.60 V327.20 M181.14,322.60 V327.20 M207.80,322.60 V327.20 M234.46,322.60 V327.20 " fill="none" stroke="#303030" stroke-width="1.3"/>
<text x="56.80" y="200.90" text-anchor="end">0.12</text>
<text x="57.60" y="305.50" text-anchor="end">0</text>
<text x="74.50" y="342.30" text-anchor="middle">0</text>
<text x="101.16" y="342.30" text-anchor="middle">2</text>
<text x="127.82" y="342.30" text-anchor="middle">4</text>
<text x="154.48" y="342.30" text-anchor="middle">6</text>
<text x="181.14" y="342.30" text-anchor="middle">8</text>
<text x="207.80" y="342.30" text-anchor="middle">10</text>
<text x="234.46" y="342.30" text-anchor="middle">12</text>
<text x="197.10" y="200.00" text-anchor="middle">Dot location</text>
<rect x="166.00" y="204.10" width="62.20" height="42.20" rx="4.5" fill="none" stroke="#303030" stroke-width="1.6"/>
<circle cx="174.10" cy="215.20" r="4.1" fill="rgb(71,131,195)" fill-opacity="0.52"/>
<circle cx="189.50" cy="215.20" r="4.1" fill="rgb(137,67,175)" fill-opacity="0.52"/>
<circle cx="204.90" cy="215.20" r="4.1" fill="rgb(195,25,35)" fill-opacity="0.52"/>
<circle cx="220.30" cy="215.20" r="4.1" fill="rgb(65,135,55)" fill-opacity="0.52"/>
<path d="M195.70,225.10 h3 M197.20,223.60 v3" stroke="#111" stroke-width="0.9"/>
<path d="M297.6,293.8 299.3,293.8 300.9,293.7 302.6,293.6 304.3,293.4 305.9,293.2 307.6,292.8 309.3,292.3 310.9,291.7 312.6,290.9 314.3,289.9 315.9,288.9 317.6,287.8 319.3,286.5 320.9,285.1 322.6,283.2 324.3,280.8 325.9,277.6 327.6,273.9 329.3,270.0 330.9,266.0 332.6,262.2 334.3,258.6 335.9,255.2 337.6,251.8 339.3,248.6 340.9,245.5 342.6,242.6 344.3,239.9 345.9,237.6 347.6,235.6 349.3,234.0 350.9,232.9 352.6,232.4 354.3,232.2 355.9,232.5 357.6,232.9 359.3,233.6 360.9,234.6 362.6,235.9 364.2,237.7 365.9,240.1 367.6,242.8 369.2,245.8 370.9,248.6 372.6,251.2 374.2,253.6 375.9,255.9 377.6,258.2 379.2,260.4 380.9,262.8 382.6,265.2 384.2,267.7 385.9,270.4 387.6,273.1 389.2,275.7 390.9,278.2 392.6,280.3 394.2,282.2 395.9,283.8 397.6,285.1 399.2,286.3 400.9,287.2 402.6,288.0 404.2,288.6 405.9,289.1 407.6,289.4 409.2,289.7 410.9,289.8 412.6,289.9 414.2,290.0 415.9,290.0 417.6,289.9 419.2,289.9 420.9,289.9 422.6,289.8 424.2,289.8 425.9,289.8 427.6,289.8 429.2,289.9 430.9,289.9 432.6,290.0 434.2,290.2 435.9,290.3 437.6,290.5 439.2,290.7 440.9,290.8 442.6,291.0 444.2,291.2 445.9,291.4 447.6,291.6 449.2,291.8 450.9,291.9 452.6,292.1 454.2,292.2 455.9,292.4 457.6,292.5 L457.6,308.6 455.9,308.1 454.2,307.5 452.6,306.9 450.9,306.3 449.2,305.8 447.6,305.3 445.9,304.8 444.2,304.3 442.6,303.8 440.9,303.4 439.2,303.0 437.6,302.6 435.9,302.3 434.2,302.1 432.6,301.8 430.9,301.7 429.2,301.6 427.6,301.5 425.9,301.5 424.2,301.5 422.6,301.5 420.9,301.6 419.2,301.6 417.6,301.7 415.9,301.7 414.2,301.7 412.6,301.6 410.9,301.3 409.2,300.9 407.6,300.3 405.9,299.4 404.2,298.2 402.6,296.7 400.9,295.0 399.2,293.1 397.6,291.2 395.9,289.4 394.2,287.5 392.6,285.5 390.9,283.4 389.2,281.1 387.6,278.6 385.9,276.1 384.2,273.8 382.6,271.7 380.9,269.9 379.2,268.3 377.6,266.9 375.9,265.7 374.2,264.7 372.6,263.9 370.9,263.4 369.2,263.1 367.6,263.0 365.9,263.0 364.2,262.9 362.6,262.6 360.9,262.3 359.3,262.0 357.6,261.9 355.9,262.0 354.3,262.3 352.6,262.8 350.9,263.4 349.3,264.1 347.6,265.1 345.9,266.2 344.3,267.7 342.6,269.6 340.9,271.7 339.3,274.0 337.6,276.4 335.9,278.9 334.3,281.3 332.6,283.7 330.9,286.0 329.3,288.3 327.6,290.5 325.9,292.7 324.3,294.7 322.6,296.7 320.9,298.5 319.3,300.2 317.6,301.7 315.9,303.0 314.3,304.2 312.6,305.2 310.9,306.0 309.3,306.7 307.6,307.3 305.9,307.7 304.3,308.1 302.6,308.4 300.9,308.6 299.3,308.8 297.6,309.0 Z" fill="rgb(71,131,195)" fill-opacity="0.50"/>
<path d="M297.6,295.6 299.3,295.5 300.9,295.4 302.6,295.3 304.3,295.1 305.9,294.9 307.6,294.6 309.3,294.3 310.9,293.8 312.6,293.3 314.3,292.7 315.9,292.0 317.6,291.2 319.3,290.4 320.9,289.4 322.6,287.9 324.3,286.0 325.9,283.5 327.6,280.4 329.3,277.1 330.9,273.8 332.6,270.7 334.3,267.7 335.9,265.0 337.6,262.5 339.3,260.4 340.9,258.5 342.6,256.9 344.3,255.6 345.9,254.4 347.6,253.5 349.3,252.7 350.9,252.1 352.6,251.5 354.3,251.1 355.9,251.0 357.6,251.2 359.3,251.8 360.9,252.7 362.6,253.8 364.2,254.7 365.9,255.4 367.6,255.9 369.2,256.2 370.9,256.4 372.6,256.5 374.2,256.7 375.9,257.2 377.6,258.2 379.2,259.7 380.9,261.8 382.6,264.2 384.2,266.9 385.9,269.6 387.6,272.3 389.2,274.9 390.9,277.3 392.6,279.4 394.2,281.2 395.9,282.8 397.6,284.3 399.2,285.6 400.9,286.7 402.6,287.8 404.2,288.6 405.9,289.3 407.6,289.9 409.2,290.3 410.9,290.7 412.6,290.9 414.2,291.1 415.9,291.2 417.6,291.2 419.2,291.3 420.9,291.3 422.6,291.3 424.2,291.2 425.9,291.2 427.6,291.2 429.2,291.2 430.9,291.2 432.6,291.3 434.2,291.3 435.9,291.4 437.6,291.5 439.2,291.6 440.9,291.8 442.6,291.9 444.2,292.1 445.9,292.3 447.6,292.5 449.2,292.7 450.9,292.9 452.6,293.1 454.2,293.4 455.9,293.6 457.6,293.8 L457.6,305.2 455.9,304.7 454.2,304.2 452.6,303.7 450.9,303.3 449.2,302.8 447.6,302.4 445.9,302.0 444.2,301.7 442.6,301.3 440.9,301.0 439.2,300.8 437.6,300.5 435.9,300.3 434.2,300.2 432.6,300.0 430.9,299.9 429.2,299.9 427.6,299.8 425.9,299.8 424.2,299.8 422.6,299.9 420.9,299.9 419.2,299.9 417.6,299.9 415.9,299.9 414.2,299.9 412.6,299.8 410.9,299.6 409.2,299.2 407.6,298.8 405.9,298.1 404.2,297.3 402.6,296.3 400.9,295.1 399.2,293.7 397.6,292.1 395.9,290.4 394.2,288.5 392.6,286.5 390.9,284.3 389.2,281.9 387.6,279.4 385.9,277.0 384.2,274.7 382.6,272.7 380.9,270.9 379.2,269.2 377.6,267.7 375.9,266.3 374.2,265.1 372.6,264.1 370.9,263.4 369.2,263.0 367.6,262.9 365.9,262.9 364.2,262.9 362.6,262.6 360.9,262.3 359.3,262.1 357.6,261.9 355.9,262.0 354.3,262.3 352.6,262.8 350.9,263.4 349.3,264.1 347.6,265.1 345.9,266.3 344.3,267.7 342.6,269.6 340.9,271.7 339.3,274.0 337.6,276.4 335.9,278.9 334.3,281.3 332.6,283.7 330.9,286.0 329.3,288.2 327.6,290.2 325.9,292.1 324.3,293.8 322.6,295.4 320.9,296.7 319.3,297.9 317.6,299.1 315.9,300.1 314.3,301.0 312.6,301.8 310.9,302.5 309.3,303.1 307.6,303.5 305.9,303.8 304.3,304.0 302.6,304.1 300.9,304.2 299.3,304.3 297.6,304.3 Z" fill="rgb(137,67,175)" fill-opacity="0.50"/>
<path d="M297.6,296.4 299.3,296.4 300.9,296.3 302.6,296.2 304.3,296.0 305.9,295.8 307.6,295.5 309.3,295.2 310.9,294.7 312.6,294.1 314.3,293.5 315.9,292.8 317.6,292.1 319.3,291.4 320.9,290.7 322.6,289.8 324.3,288.6 325.9,287.1 327.6,285.2 329.3,282.8 330.9,279.9 332.6,276.5 334.3,272.8 335.9,269.2 337.6,266.0 339.3,263.5 340.9,261.6 342.6,260.1 344.3,259.0 345.9,258.2 347.6,257.5 349.3,256.9 350.9,256.4 352.6,256.0 354.3,255.7 355.9,255.5 357.6,255.6 359.3,255.8 360.9,256.2 362.6,256.7 364.2,257.3 365.9,257.9 367.6,258.6 369.2,259.3 370.9,259.9 372.6,260.5 374.2,261.1 375.9,261.8 377.6,262.5 379.2,263.4 380.9,264.5 382.6,265.9 384.2,267.7 385.9,269.9 387.6,272.4 389.2,274.9 390.9,277.3 392.6,279.4 394.2,281.2 395.9,282.8 397.6,284.3 399.2,285.6 400.9,286.7 402.6,287.7 404.2,288.6 405.9,289.3 407.6,289.9 409.2,290.4 410.9,290.7 412.6,290.9 414.2,291.1 415.9,291.2 417.6,291.2 419.2,291.2 420.9,291.2 422.6,291.2 424.2,291.2 425.9,291.1 427.6,291.1 429.2,291.2 430.9,291.2 432.6,291.3 434.2,291.5 435.9,291.7 437.6,291.9 439.2,292.2 440.9,292.4 442.6,292.7 444.2,293.0 445.9,293.2 447.6,293.5 449.2,293.7 450.9,293.9 452.6,294.1 454.2,294.3 455.9,294.5 457.6,294.7 L457.6,305.2 455.9,304.7 454.2,304.2 452.6,303.7 450.9,303.3 449.2,302.8 447.6,302.4 445.9,302.0 444.2,301.7 442.6,301.3 440.9,301.0 439.2,300.8 437.6,300.5 435.9,300.3 434.2,300.2 432.6,300.0 430.9,299.9 429.2,299.9 427.6,299.8 425.9,299.8 424.2,299.8 422.6,299.9 420.9,299.9 419.2,299.9 417.6,299.9 415.9,299.9 414.2,299.9 412.6,299.8 410.9,299.6 409.2,299.2 407.6,298.8 405.9,298.1 404.2,297.3 402.6,296.3 400.9,295.1 399.2,293.7 397.6,292.1 395.9,290.4 394.2,288.5 392.6,286.5 390.9,284.3 389.2,281.9 387.6,279.4 385.9,277.0 384.2,274.7 382.6,272.7 380.9,271.0 379.2,269.7 377.6,268.6 375.9,267.9 374.2,267.4 372.6,267.1 370.9,266.9 369.2,266.6 367.6,266.4 365.9,266.2 364.2,266.0 362.6,265.8 360.9,265.7 359.3,265.8 357.6,266.0 355.9,266.5 354.3,267.1 352.6,267.8 350.9,268.6 349.3,269.4 347.6,270.1 345.9,271.0 344.3,272.1 342.6,273.4 340.9,275.0 339.3,276.9 337.6,279.1 335.9,281.5 334.3,284.2 332.6,286.9 330.9,289.5 329.3,291.9 327.6,294.0 325.9,295.8 324.3,297.3 322.6,298.5 320.9,299.4 319.3,300.1 317.6,300.8 315.9,301.5 314.3,302.2 312.6,302.8 310.9,303.4 309.3,303.9 307.6,304.2 305.9,304.5 304.3,304.7 302.6,304.9 300.9,305.0 299.3,305.1 297.6,305.2 Z" fill="rgb(195,25,35)" fill-opacity="0.50"/>
<path d="M297.6,298.2 299.3,298.2 300.9,298.3 302.6,298.2 304.3,298.2 305.9,298.1 307.6,297.9 309.3,297.7 310.9,297.3 312.6,296.9 314.3,296.3 315.9,295.6 317.6,294.7 319.3,293.7 320.9,292.6 322.6,291.5 324.3,290.4 325.9,289.3 327.6,288.1 329.3,286.8 330.9,285.1 332.6,283.2 334.3,281.1 335.9,279.1 337.6,277.3 339.3,276.0 340.9,275.1 342.6,274.4 344.3,273.8 345.9,273.2 347.6,272.5 349.3,271.7 350.9,270.8 352.6,269.8 354.3,268.8 355.9,268.0 357.6,267.3 359.3,266.9 360.9,266.7 362.6,266.8 364.2,266.9 365.9,267.0 367.6,267.2 369.2,267.5 370.9,267.7 372.6,268.0 374.2,268.4 375.9,268.8 377.6,269.5 379.2,270.3 380.9,271.4 382.6,272.6 384.2,273.8 385.9,275.1 387.6,276.4 389.2,277.7 390.9,279.1 392.6,280.4 394.2,281.7 395.9,283.0 397.6,284.3 399.2,285.5 400.9,286.7 402.6,287.7 404.2,288.6 405.9,289.4 407.6,290.0 409.2,290.4 410.9,290.7 412.6,291.0 414.2,291.1 415.9,291.2 417.6,291.2 419.2,291.2 420.9,291.2 422.6,291.2 424.2,291.1 425.9,291.1 427.6,291.1 429.2,291.2 430.9,291.2 432.6,291.4 434.2,291.5 435.9,291.7 437.6,291.9 439.2,292.2 440.9,292.5 442.6,292.7 444.2,293.0 445.9,293.2 447.6,293.5 449.2,293.7 450.9,293.9 452.6,294.1 454.2,294.3 455.9,294.5 457.6,294.7 L457.6,306.0 455.9,305.7 454.2,305.3 452.6,305.0 450.9,304.7 449.2,304.4 447.6,304.0 445.9,303.7 444.2,303.4 442.6,303.1 440.9,302.8 439.2,302.6 437.6,302.3 435.9,302.1 434.2,301.9 432.6,301.8 430.9,301.7 429.2,301.6 427.6,301.6 425.9,301.6 424.2,301.7 422.6,301.8 420.9,301.9 419.2,302.1 417.6,302.3 415.9,302.5 414.2,302.7 412.6,302.9 410.9,302.9 409.2,302.8 407.6,302.4 405.9,301.8 404.2,300.8 402.6,299.5 400.9,297.9 399.2,296.3 397.6,294.7 395.9,293.3 394.2,292.0 392.6,290.8 390.9,289.5 389.2,288.1 387.6,286.8 385.9,285.5 384.2,284.3 382.6,283.3 380.9,282.4 379.2,281.8 377.6,281.2 375.9,280.8 374.2,280.4 372.6,280.1 370.9,279.9 369.2,279.7 367.6,279.6 365.9,279.3 364.2,279.1 362.6,278.7 360.9,278.3 359.3,278.1 357.6,278.2 355.9,278.6 354.3,279.3 352.6,280.1 350.9,280.8 349.3,281.3 347.6,281.7 345.9,282.1 344.3,282.5 342.6,283.1 340.9,283.9 339.3,284.9 337.6,286.0 335.9,287.4 334.3,288.9 332.6,290.5 330.9,292.1 329.3,293.7 327.6,295.3 325.9,296.8 324.3,298.2 322.6,299.5 320.9,300.6 319.3,301.6 317.6,302.5 315.9,303.3 314.3,304.0 312.6,304.6 310.9,305.2 309.3,305.6 307.6,305.9 305.9,306.2 304.3,306.4 302.6,306.5 300.9,306.7 299.3,306.8 297.6,306.9 Z" fill="rgb(65,135,55)" fill-opacity="0.50"/>
<rect x="353.87" y="315.60" width="1.3" height="5.2" fill="rgb(60,111,165)"/>
<rect x="356.27" y="315.60" width="1.3" height="5.2" fill="rgb(116,56,148)"/>
<rect x="356.94" y="315.60" width="1.3" height="5.2" fill="rgb(165,21,29)"/>
<path d="M289.30,196.40 V322.60 H457.56" fill="none" stroke="#303030" stroke-width="1.3"/>
<path d="M284.90,196.40 H289.30 M284.90,213.80 H289.30 M284.90,231.20 H289.30 M284.90,248.60 H289.30 M284.90,266.00 H289.30 M284.90,283.40 H289.30 M284.90,300.80 H289.30 M284.90,318.20 H289.30 M297.60,322.60 V327.20 M324.26,322.60 V327.20 M350.92,322.60 V327.20 M377.58,322.60 V327.20 M404.24,322.60 V327.20 M430.90,322.60 V327.20 M457.56,322.60 V327.20 " fill="none" stroke="#303030" stroke-width="1.3"/>
<text x="280.10" y="200.90" text-anchor="end">0.12</text>
<text x="280.90" y="305.50" text-anchor="end">0</text>
<text x="297.60" y="342.30" text-anchor="middle">0</text>
<text x="324.26" y="342.30" text-anchor="middle">2</text>
<text x="350.92" y="342.30" text-anchor="middle">4</text>
<text x="377.58" y="342.30" text-anchor="middle">6</text>
<text x="404.24" y="342.30" text-anchor="middle">8</text>
<text x="430.90" y="342.30" text-anchor="middle">10</text>
<text x="457.56" y="342.30" text-anchor="middle">12</text>
<text x="420.50" y="200.00" text-anchor="middle">Dot location</text>
<rect x="389.40" y="204.10" width="62.20" height="42.20" rx="4.5" fill="none" stroke="#303030" stroke-width="1.6"/>
<circle cx="397.50" cy="215.30" r="4.1" fill="rgb(71,131,195)" fill-opacity="0.52"/>
<circle cx="412.90" cy="215.30" r="4.1" fill="none" stroke="rgb(105,82,118)" stroke-width="0.85" stroke-dasharray="0.8,1.35"/>
<circle cx="428.30" cy="215.30" r="4.1" fill="none" stroke="rgb(125,68,71)" stroke-width="0.85" stroke-dasharray="0.8,1.35"/>
<circle cx="443.70" cy="215.30" r="4.1" fill="none" stroke="rgb(81,105,78)" stroke-width="0.85" stroke-dasharray="0.8,1.35"/>
<path d="M419.10,225.00 h3 M420.60,223.50 v3" stroke="#111" stroke-width="0.9"/>
<path d="M517.5,289.1 519.2,289.1 520.8,289.0 522.5,289.0 524.2,288.9 525.8,289.0 527.5,289.0 529.2,289.1 530.8,289.3 532.5,289.6 534.2,289.9 535.8,290.2 537.5,290.6 539.2,291.0 540.8,291.4 542.5,291.8 544.2,292.1 545.8,292.4 547.5,292.7 549.2,292.9 550.8,293.1 552.5,293.3 554.2,293.5 555.8,293.7 557.5,293.8 559.2,294.0 560.8,294.2 562.5,294.3 564.2,294.4 565.8,294.5 567.5,294.6 569.2,294.7 570.8,294.7 572.5,294.7 574.2,294.6 575.8,294.5 577.5,294.4 579.2,294.3 580.8,294.2 582.5,294.0 584.1,293.8 585.8,293.7 587.5,293.5 589.1,293.4 590.8,293.2 592.5,293.1 594.1,293.1 595.8,293.0 597.5,293.0 599.1,293.0 600.8,293.0 602.5,293.1 604.1,293.2 605.8,293.3 607.5,293.5 609.1,293.7 610.8,293.8 612.5,294.0 614.1,294.2 615.8,294.4 617.5,294.6 619.1,294.7 620.8,294.7 622.5,294.8 624.1,294.7 625.8,294.6 627.5,294.4 629.1,294.1 630.8,293.8 632.5,293.4 634.1,293.0 635.8,292.6 637.5,292.1 639.1,291.6 640.8,291.1 642.5,290.6 644.1,290.2 645.8,289.8 647.5,289.5 649.1,289.3 650.8,289.1 652.5,289.1 654.1,289.2 655.8,289.4 657.5,289.7 659.1,290.0 660.8,290.4 662.5,290.8 664.1,291.2 665.8,291.7 667.5,292.1 669.1,292.5 670.8,293.0 672.5,293.4 674.1,293.8 675.8,294.3 677.5,294.7 L677.5,304.3 675.8,304.0 674.1,303.8 672.5,303.6 670.8,303.4 669.1,303.2 667.5,302.9 665.8,302.7 664.1,302.5 662.5,302.4 660.8,302.2 659.1,302.0 657.5,301.9 655.8,301.8 654.1,301.7 652.5,301.7 650.8,301.7 649.1,301.7 647.5,301.8 645.8,301.9 644.1,302.0 642.5,302.1 640.8,302.3 639.1,302.4 637.5,302.5 635.8,302.7 634.1,302.8 632.5,302.9 630.8,303.0 629.1,303.0 627.5,303.1 625.8,303.1 624.1,303.1 622.5,303.0 620.8,302.9 619.1,302.8 617.5,302.6 615.8,302.4 614.1,302.2 612.5,301.9 610.8,301.7 609.1,301.4 607.5,301.1 605.8,300.8 604.1,300.5 602.5,300.3 600.8,300.1 599.1,300.0 597.5,299.9 595.8,300.0 594.1,300.1 592.5,300.3 590.8,300.5 589.1,300.8 587.5,301.1 585.8,301.4 584.1,301.7 582.5,301.9 580.8,302.1 579.2,302.3 577.5,302.4 575.8,302.5 574.2,302.6 572.5,302.6 570.8,302.5 569.2,302.5 567.5,302.3 565.8,302.1 564.2,301.9 562.5,301.7 560.8,301.4 559.2,301.1 557.5,300.8 555.8,300.5 554.2,300.1 552.5,299.8 550.8,299.5 549.2,299.3 547.5,299.1 545.8,299.0 544.2,299.1 542.5,299.2 540.8,299.5 539.2,299.8 537.5,300.2 535.8,300.6 534.2,301.0 532.5,301.3 530.8,301.7 529.2,301.9 527.5,302.1 525.8,302.3 524.2,302.4 522.5,302.5 520.8,302.5 519.2,302.5 517.5,302.5 Z" fill="rgb(71,131,195)" fill-opacity="0.50"/>
<path d="M517.5,291.5 519.2,291.5 520.8,291.4 522.5,291.4 524.2,291.4 525.8,291.4 527.5,291.3 529.2,291.3 530.8,291.2 532.5,291.2 534.2,291.1 535.8,291.0 537.5,291.0 539.2,290.9 540.8,290.9 542.5,290.8 544.2,290.8 545.8,290.8 547.5,290.8 549.2,290.8 550.8,290.9 552.5,290.9 554.2,291.0 555.8,291.1 557.5,291.2 559.2,291.3 560.8,291.5 562.5,291.6 564.2,291.7 565.8,291.8 567.5,292.0 569.2,292.0 570.8,292.1 572.5,292.1 574.2,292.1 575.8,292.1 577.5,292.1 579.2,292.0 580.8,291.9 582.5,291.8 584.1,291.7 585.8,291.5 587.5,291.3 589.1,291.2 590.8,291.0 592.5,290.9 594.1,290.8 595.8,290.7 597.5,290.7 599.1,290.8 600.8,290.9 602.5,291.0 604.1,291.2 605.8,291.4 607.5,291.6 609.1,291.9 610.8,292.1 612.5,292.3 614.1,292.5 615.8,292.7 617.5,292.8 619.1,292.9 620.8,293.0 622.5,293.0 624.1,293.0 625.8,292.9 627.5,292.7 629.1,292.5 630.8,292.3 632.5,292.0 634.1,291.8 635.8,291.5 637.5,291.2 639.1,291.0 640.8,290.7 642.5,290.5 644.1,290.3 645.8,290.2 647.5,290.0 649.1,290.0 650.8,289.9 652.5,289.9 654.1,290.0 655.8,290.1 657.5,290.3 659.1,290.5 660.8,290.7 662.5,290.9 664.1,291.2 665.8,291.5 667.5,291.9 669.1,292.3 670.8,292.6 672.5,293.0 674.1,293.4 675.8,293.9 677.5,294.3 L677.5,301.7 675.8,301.5 674.1,301.3 672.5,301.1 670.8,300.9 669.1,300.6 667.5,300.4 665.8,300.2 664.1,299.9 662.5,299.7 660.8,299.4 659.1,299.1 657.5,298.9 655.8,298.7 654.1,298.5 652.5,298.3 650.8,298.2 649.1,298.1 647.5,298.1 645.8,298.2 644.1,298.3 642.5,298.4 640.8,298.6 639.1,298.8 637.5,299.1 635.8,299.3 634.1,299.6 632.5,299.8 630.8,300.1 629.1,300.3 627.5,300.5 625.8,300.7 624.1,300.8 622.5,300.8 620.8,300.8 619.1,300.8 617.5,300.7 615.8,300.5 614.1,300.4 612.5,300.2 610.8,299.9 609.1,299.7 607.5,299.4 605.8,299.2 604.1,299.0 602.5,298.9 600.8,298.9 599.1,298.9 597.5,299.1 595.8,299.3 594.1,299.7 592.5,300.2 590.8,300.7 589.1,301.2 587.5,301.7 585.8,302.2 584.1,302.5 582.5,302.8 580.8,303.0 579.2,303.1 577.5,303.1 575.8,303.1 574.2,303.0 572.5,302.8 570.8,302.5 569.2,302.3 567.5,302.0 565.8,301.6 564.2,301.3 562.5,300.9 560.8,300.6 559.2,300.2 557.5,299.9 555.8,299.7 554.2,299.4 552.5,299.2 550.8,299.1 549.2,299.0 547.5,299.0 545.8,299.0 544.2,299.1 542.5,299.2 540.8,299.4 539.2,299.6 537.5,299.8 535.8,300.1 534.2,300.3 532.5,300.6 530.8,300.8 529.2,301.0 527.5,301.1 525.8,301.2 524.2,301.3 522.5,301.4 520.8,301.4 519.2,301.5 517.5,301.5 Z" fill="rgb(195,25,35)" fill-opacity="0.50"/>
<path d="M517.5,291.7 519.2,291.6 520.8,291.6 522.5,291.6 524.2,291.6 525.8,291.5 527.5,291.5 529.2,291.5 530.8,291.4 532.5,291.3 534.2,291.3 535.8,291.2 537.5,291.2 539.2,291.1 540.8,291.1 542.5,291.0 544.2,291.0 545.8,290.9 547.5,290.9 549.2,290.9 550.8,291.0 552.5,291.0 554.2,291.0 555.8,291.1 557.5,291.2 559.2,291.4 560.8,291.5 562.5,291.6 564.2,291.8 565.8,291.9 567.5,292.1 569.2,292.2 570.8,292.3 572.5,292.3 574.2,292.3 575.8,292.3 577.5,292.3 579.2,292.2 580.8,292.1 582.5,292.0 584.1,291.8 585.8,291.7 587.5,291.5 589.1,291.4 590.8,291.2 592.5,291.1 594.1,291.0 595.8,290.9 597.5,290.9 599.1,290.9 600.8,291.0 602.5,291.1 604.1,291.3 605.8,291.5 607.5,291.7 609.1,291.9 610.8,292.1 612.5,292.3 614.1,292.5 615.8,292.7 617.5,292.8 619.1,292.9 620.8,293.0 622.5,293.0 624.1,293.0 625.8,292.9 627.5,292.7 629.1,292.5 630.8,292.3 632.5,292.0 634.1,291.8 635.8,291.5 637.5,291.2 639.1,291.0 640.8,290.8 642.5,290.6 644.1,290.4 645.8,290.3 647.5,290.2 649.1,290.1 650.8,290.1 652.5,290.1 654.1,290.2 655.8,290.2 657.5,290.4 659.1,290.5 660.8,290.7 662.5,291.0 664.1,291.2 665.8,291.5 667.5,291.9 669.1,292.3 670.8,292.7 672.5,293.1 674.1,293.5 675.8,294.0 677.5,294.4 L677.5,301.7 675.8,301.5 674.1,301.3 672.5,301.1 670.8,300.9 669.1,300.6 667.5,300.4 665.8,300.2 664.1,299.9 662.5,299.7 660.8,299.4 659.1,299.1 657.5,298.9 655.8,298.7 654.1,298.5 652.5,298.3 650.8,298.2 649.1,298.1 647.5,298.1 645.8,298.2 644.1,298.3 642.5,298.4 640.8,298.6 639.1,298.8 637.5,299.1 635.8,299.3 634.1,299.6 632.5,299.8 630.8,300.1 629.1,300.3 627.5,300.5 625.8,300.7 624.1,300.8 622.5,300.8 620.8,300.8 619.1,300.8 617.5,300.7 615.8,300.5 614.1,300.4 612.5,300.2 610.8,299.9 609.1,299.7 607.5,299.4 605.8,299.2 604.1,299.0 602.5,298.9 600.8,298.9 599.1,298.9 597.5,299.1 595.8,299.3 594.1,299.7 592.5,300.2 590.8,300.7 589.1,301.2 587.5,301.7 585.8,302.2 584.1,302.5 582.5,302.8 580.8,303.0 579.2,303.1 577.5,303.1 575.8,303.1 574.2,303.0 572.5,302.8 570.8,302.5 569.2,302.3 567.5,302.0 565.8,301.6 564.2,301.3 562.5,300.9 560.8,300.6 559.2,300.2 557.5,299.9 555.8,299.7 554.2,299.4 552.5,299.2 550.8,299.1 549.2,299.0 547.5,299.0 545.8,299.0 544.2,299.1 542.5,299.2 540.8,299.4 539.2,299.6 537.5,299.8 535.8,300.1 534.2,300.3 532.5,300.6 530.8,300.8 529.2,301.0 527.5,301.1 525.8,301.2 524.2,301.3 522.5,301.4 520.8,301.4 519.2,301.5 517.5,301.5 Z" fill="rgb(137,67,175)" fill-opacity="0.50"/>
<path d="M517.5,294.9 519.2,295.7 520.8,296.5 522.5,297.2 524.2,297.8 525.8,298.1 527.5,298.2 529.2,297.9 530.8,297.3 532.5,296.3 534.2,294.8 535.8,292.8 537.5,290.4 539.2,287.4 540.8,284.0 542.5,280.6 544.2,277.3 545.8,274.3 547.5,271.5 549.2,268.8 550.8,266.0 552.5,263.1 554.2,260.2 555.8,257.3 557.5,254.7 559.2,252.3 560.8,250.3 562.5,248.4 564.2,246.9 565.8,245.5 567.5,244.3 569.2,243.3 570.8,242.5 572.5,242.0 574.2,241.7 575.8,241.9 577.5,242.5 579.2,243.7 580.8,245.4 582.5,247.3 584.1,249.5 585.8,251.7 587.5,254.0 589.1,256.4 590.8,259.0 592.5,261.8 594.1,264.7 595.8,267.6 597.5,270.4 599.1,272.9 600.8,275.1 602.5,277.2 604.1,279.1 605.8,280.7 607.5,282.3 609.1,283.7 610.8,285.1 612.5,286.5 614.1,287.9 615.8,289.2 617.5,290.4 619.1,291.5 620.8,292.4 622.5,293.2 624.1,293.8 625.8,294.2 627.5,294.5 629.1,294.6 630.8,294.5 632.5,294.4 634.1,294.2 635.8,294.0 637.5,293.8 639.1,293.7 640.8,293.6 642.5,293.6 644.1,293.5 645.8,293.6 647.5,293.6 649.1,293.7 650.8,293.8 652.5,294.0 654.1,294.2 655.8,294.3 657.5,294.6 659.1,294.8 660.8,295.0 662.5,295.3 664.1,295.6 665.8,295.9 667.5,296.2 669.1,296.5 670.8,296.8 672.5,297.2 674.1,297.5 675.8,297.8 677.5,298.2 L677.5,306.9 675.8,306.4 674.1,305.9 672.5,305.5 670.8,305.0 669.1,304.6 667.5,304.2 665.8,303.8 664.1,303.4 662.5,303.1 660.8,302.8 659.1,302.5 657.5,302.3 655.8,302.1 654.1,301.9 652.5,301.8 650.8,301.7 649.1,301.6 647.5,301.6 645.8,301.5 644.1,301.5 642.5,301.6 640.8,301.6 639.1,301.6 637.5,301.7 635.8,301.7 634.1,301.7 632.5,301.7 630.8,301.7 629.1,301.6 627.5,301.4 625.8,301.2 624.1,300.8 622.5,300.3 620.8,299.7 619.1,299.0 617.5,298.2 615.8,297.2 614.1,296.2 612.5,295.0 610.8,293.8 609.1,292.6 607.5,291.4 605.8,290.1 604.1,288.6 602.5,287.0 600.8,285.4 599.1,283.6 597.5,281.7 595.8,279.7 594.1,277.7 592.5,275.7 590.8,273.8 589.1,272.0 587.5,270.4 585.8,268.9 584.1,267.7 582.5,266.8 580.8,266.1 579.2,265.5 577.5,265.1 575.8,264.8 574.2,264.6 572.5,264.7 570.8,265.1 569.2,265.9 567.5,267.0 565.8,268.2 564.2,269.5 562.5,270.7 560.8,271.9 559.2,273.2 557.5,274.7 555.8,276.4 554.2,278.4 552.5,280.4 550.8,282.5 549.2,284.7 547.5,286.9 545.8,289.3 544.2,292.1 542.5,295.3 540.8,298.6 539.2,301.7 537.5,304.3 535.8,306.1 534.2,307.4 532.5,308.1 530.8,308.6 529.2,309.0 527.5,309.3 525.8,309.5 524.2,309.6 522.5,309.7 520.8,309.7 519.2,309.8 517.5,309.8 Z" fill="rgb(65,135,55)" fill-opacity="0.50"/>
<rect x="539.51" y="315.60" width="1.3" height="5.2" fill="rgb(60,111,165)"/>
<rect x="573.90" y="315.60" width="1.3" height="5.2" fill="rgb(55,114,46)"/>
<rect x="654.15" y="315.60" width="1.3" height="5.2" fill="rgb(116,56,148)"/>
<rect x="656.42" y="315.60" width="1.3" height="5.2" fill="rgb(165,21,29)"/>
<path d="M509.40,196.40 V322.60 H677.46" fill="none" stroke="#303030" stroke-width="1.3"/>
<path d="M505.00,196.40 H509.40 M505.00,213.80 H509.40 M505.00,231.20 H509.40 M505.00,248.60 H509.40 M505.00,266.00 H509.40 M505.00,283.40 H509.40 M505.00,300.80 H509.40 M505.00,318.20 H509.40 M517.50,322.60 V327.20 M544.16,322.60 V327.20 M570.82,322.60 V327.20 M597.48,322.60 V327.20 M624.14,322.60 V327.20 M650.80,322.60 V327.20 M677.46,322.60 V327.20 " fill="none" stroke="#303030" stroke-width="1.3"/>
<text x="500.20" y="200.90" text-anchor="end">0.12</text>
<text x="501.00" y="305.50" text-anchor="end">0</text>
<text x="517.50" y="342.30" text-anchor="middle">0</text>
<text x="544.16" y="342.30" text-anchor="middle">2</text>
<text x="570.82" y="342.30" text-anchor="middle">4</text>
<text x="597.48" y="342.30" text-anchor="middle">6</text>
<text x="624.14" y="342.30" text-anchor="middle">8</text>
<text x="650.80" y="342.30" text-anchor="middle">10</text>
<text x="677.46" y="342.30" text-anchor="middle">12</text>
<text x="650.70" y="200.00" text-anchor="middle">Dot location</text>
<rect x="619.60" y="204.10" width="62.20" height="42.20" rx="4.5" fill="none" stroke="#303030" stroke-width="1.6"/>
<circle cx="627.70" cy="215.30" r="4.1" fill="none" stroke="rgb(83,103,125)" stroke-width="0.85" stroke-dasharray="0.8,1.35"/>
<circle cx="643.10" cy="215.30" r="4.1" fill="none" stroke="rgb(105,82,118)" stroke-width="0.85" stroke-dasharray="0.8,1.35"/>
<circle cx="658.50" cy="215.30" r="4.1" fill="none" stroke="rgb(125,68,71)" stroke-width="0.85" stroke-dasharray="0.8,1.35"/>
<circle cx="673.90" cy="215.30" r="4.1" fill="rgb(65,135,55)" fill-opacity="0.52"/>
<path d="M649.30,225.00 h3 M650.80,223.50 v3" stroke="#111" stroke-width="0.9"/>
</svg></body></html>
